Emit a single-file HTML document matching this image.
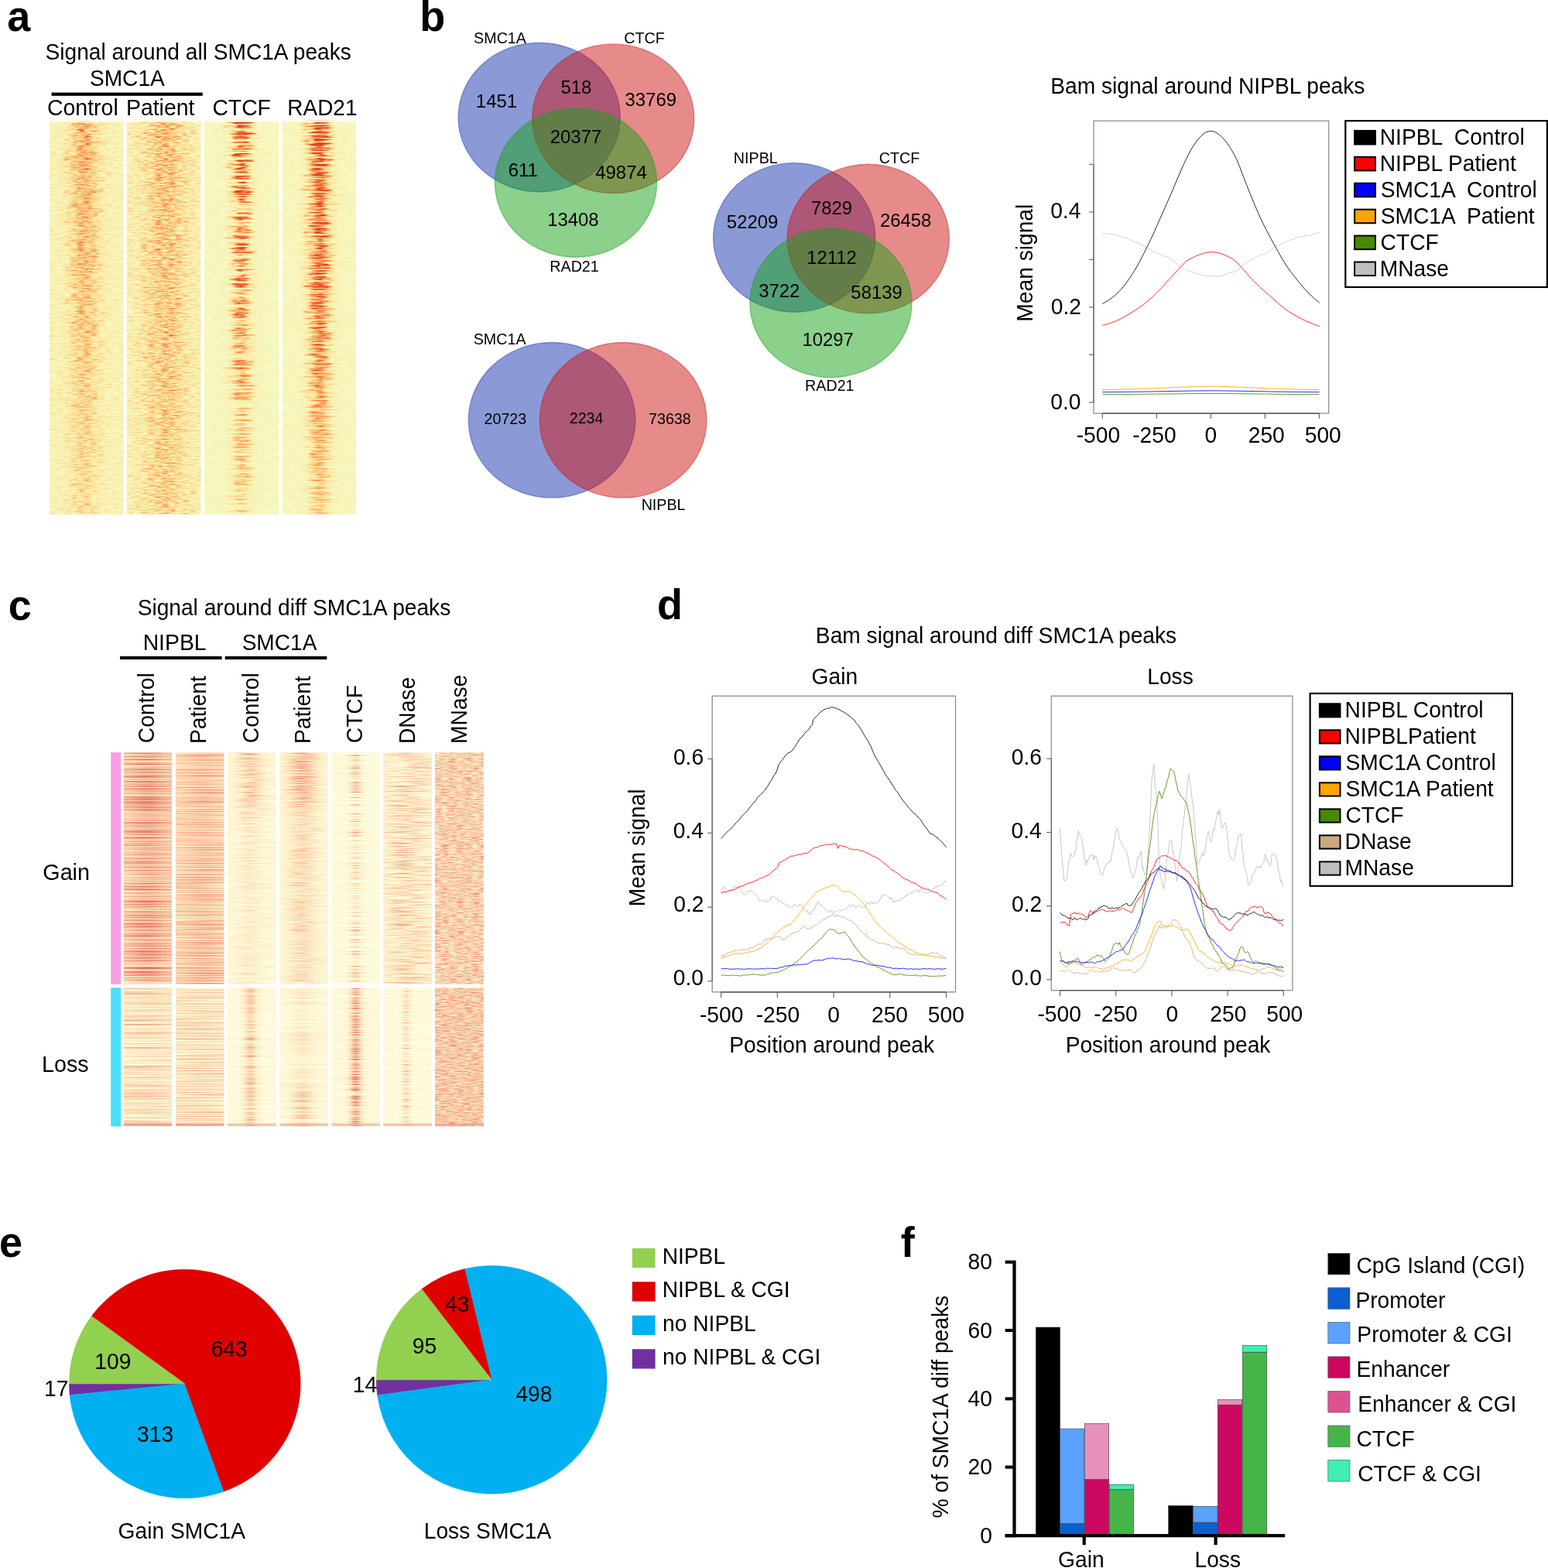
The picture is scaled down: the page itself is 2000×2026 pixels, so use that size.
<!DOCTYPE html>
<html lang="en"><head><meta charset="utf-8"><title>Figure</title>
<style>
html,body{margin:0;padding:0;background:#fff;}
body{width:2000px;height:2026px;overflow:hidden;}
svg{display:block;font-family:'Liberation Sans', Arial, Helvetica, sans-serif;}
</style></head><body>
<svg xmlns="http://www.w3.org/2000/svg" width="2000" height="2026" viewBox="0 0 2000 2026">
<linearGradient id="g1" gradientUnits="userSpaceOnUse" x1="63.9" y1="0" x2="159.6" y2="0"><stop offset="0" stop-color="#010101"/><stop offset="0.06" stop-color="#040404"/><stop offset="0.12" stop-color="#0c0c0c"/><stop offset="0.19" stop-color="#212121"/><stop offset="0.25" stop-color="#4a4a4a"/><stop offset="0.31" stop-color="#878787"/><stop offset="0.38" stop-color="#cbcbcb"/><stop offset="0.44" stop-color="#f8f8f8"/><stop offset="0.5" stop-color="#f9f9f9"/><stop offset="0.56" stop-color="#cdcdcd"/><stop offset="0.62" stop-color="#8a8a8a"/><stop offset="0.69" stop-color="#4c4c4c"/><stop offset="0.75" stop-color="#232323"/><stop offset="0.81" stop-color="#0d0d0d"/><stop offset="0.88" stop-color="#040404"/><stop offset="0.94" stop-color="#010101"/><stop offset="1" stop-color="#000000"/></linearGradient>
<linearGradient id="v2" gradientUnits="userSpaceOnUse" x1="0" y1="154.6" x2="0" y2="664.6"><stop offset="0" stop-color="#000" stop-opacity="0"/><stop offset="0.5" stop-color="#000" stop-opacity="0.25"/><stop offset="1" stop-color="#000" stop-opacity="0.55"/></linearGradient>
<filter id="f3" filterUnits="userSpaceOnUse" x="63.9" y="154.6" width="95.7" height="510" color-interpolation-filters="sRGB"><feTurbulence type="fractalNoise" baseFrequency="0.11 0.55" numOctaves="3" seed="3" result="t"/><feColorMatrix in="t" type="matrix" values="0.448 0 0 0 0.179 0.448 0 0 0 0.179 0.448 0 0 0 0.179 0 0 0 0 1" result="na"/><feTurbulence type="fractalNoise" baseFrequency="0.03 0.1" numOctaves="2" seed="31"/><feColorMatrix type="matrix" values="1 0 0 0 0 0 0 0 0 0.5 0 0 0 0 0.5 0 0 0 0 1" result="d"/><feDisplacementMap in="SourceGraphic" in2="d" scale="26" xChannelSelector="R" yChannelSelector="G" result="s"/><feComposite in="s" in2="na" operator="arithmetic" k1="1" k2="0" k3="0" k4="0" result="v"/><feColorMatrix in="t" type="matrix" values="0.567 0 0 0 -0.194 0.567 0 0 0 -0.194 0.567 0 0 0 -0.194 0 0 0 0 1" result="nc"/><feComposite in="v" in2="nc" operator="arithmetic" k1="0" k2="1" k3="1" k4="0" result="v"/><feComponentTransfer in="v"><feFuncR type="table" tableValues="0.965 0.972 0.979 0.987 0.987 0.986 0.985 0.981 0.976 0.972 0.962 0.946 0.93 0.913 0.89 0.866 0.843"/><feFuncG type="table" tableValues="0.976 0.959 0.942 0.925 0.887 0.844 0.801 0.748 0.686 0.625 0.559 0.485 0.412 0.346 0.309 0.272 0.235"/><feFuncB type="table" tableValues="0.761 0.725 0.69 0.654 0.608 0.559 0.51 0.461 0.412 0.363 0.315 0.27 0.225 0.185 0.169 0.153 0.137"/></feComponentTransfer></filter>
<g filter="url(#f3)"><rect x="33.9" y="154.6" width="155.7" height="510" fill="#000"/><rect x="63.9" y="154.6" width="95.7" height="510" fill="url(#g1)"/><rect x="33.9" y="154.6" width="155.7" height="510" fill="url(#v2)"/></g>
<rect x="63.9" y="154.6" width="95.7" height="3.2" fill="#fffef4" opacity="0.85"/>
<linearGradient id="g4" gradientUnits="userSpaceOnUse" x1="163.8" y1="0" x2="259.5" y2="0"><stop offset="0" stop-color="#060606"/><stop offset="0.06" stop-color="#0e0e0e"/><stop offset="0.12" stop-color="#1d1d1d"/><stop offset="0.19" stop-color="#373737"/><stop offset="0.25" stop-color="#5d5d5d"/><stop offset="0.31" stop-color="#8c8c8c"/><stop offset="0.38" stop-color="#bfbfbf"/><stop offset="0.44" stop-color="#e8e8e8"/><stop offset="0.5" stop-color="#fefefe"/><stop offset="0.56" stop-color="#f9f9f9"/><stop offset="0.62" stop-color="#dbdbdb"/><stop offset="0.69" stop-color="#adadad"/><stop offset="0.75" stop-color="#7b7b7b"/><stop offset="0.81" stop-color="#4e4e4e"/><stop offset="0.88" stop-color="#2d2d2d"/><stop offset="0.94" stop-color="#171717"/><stop offset="1" stop-color="#0a0a0a"/></linearGradient>
<linearGradient id="v5" gradientUnits="userSpaceOnUse" x1="0" y1="154.6" x2="0" y2="664.6"><stop offset="0" stop-color="#000" stop-opacity="0"/><stop offset="0.5" stop-color="#000" stop-opacity="0.15"/><stop offset="1" stop-color="#000" stop-opacity="0.3"/></linearGradient>
<filter id="f6" filterUnits="userSpaceOnUse" x="163.8" y="154.6" width="95.7" height="510" color-interpolation-filters="sRGB"><feTurbulence type="fractalNoise" baseFrequency="0.11 0.55" numOctaves="3" seed="8" result="t"/><feColorMatrix in="t" type="matrix" values="0.484 0 0 0 0.048 0.484 0 0 0 0.048 0.484 0 0 0 0.048 0 0 0 0 1" result="na"/><feTurbulence type="fractalNoise" baseFrequency="0.03 0.1" numOctaves="2" seed="32"/><feColorMatrix type="matrix" values="1 0 0 0 0 0 0 0 0 0.5 0 0 0 0 0.5 0 0 0 0 1" result="d"/><feDisplacementMap in="SourceGraphic" in2="d" scale="28" xChannelSelector="R" yChannelSelector="G" result="s"/><feComposite in="s" in2="na" operator="arithmetic" k1="1" k2="0" k3="0" k4="0" result="v"/><feColorMatrix in="t" type="matrix" values="0.677 0 0 0 -0.21 0.677 0 0 0 -0.21 0.677 0 0 0 -0.21 0 0 0 0 1" result="nc"/><feComposite in="v" in2="nc" operator="arithmetic" k1="0" k2="1" k3="1" k4="0" result="v"/><feComponentTransfer in="v"><feFuncR type="table" tableValues="0.965 0.972 0.979 0.987 0.987 0.986 0.985 0.981 0.976 0.972 0.962 0.946 0.93 0.913 0.89 0.866 0.843"/><feFuncG type="table" tableValues="0.976 0.959 0.942 0.925 0.887 0.844 0.801 0.748 0.686 0.625 0.559 0.485 0.412 0.346 0.309 0.272 0.235"/><feFuncB type="table" tableValues="0.761 0.725 0.69 0.654 0.608 0.559 0.51 0.461 0.412 0.363 0.315 0.27 0.225 0.185 0.169 0.153 0.137"/></feComponentTransfer></filter>
<g filter="url(#f6)"><rect x="133.8" y="154.6" width="155.7" height="510" fill="#000"/><rect x="163.8" y="154.6" width="95.7" height="510" fill="url(#g4)"/><rect x="133.8" y="154.6" width="155.7" height="510" fill="url(#v5)"/></g>
<rect x="163.8" y="154.6" width="95.7" height="3.2" fill="#fffef4" opacity="0.85"/>
<linearGradient id="g7" gradientUnits="userSpaceOnUse" x1="263.9" y1="0" x2="360.2" y2="0"><stop offset="0" stop-color="#000000"/><stop offset="0.06" stop-color="#000000"/><stop offset="0.12" stop-color="#000000"/><stop offset="0.19" stop-color="#000000"/><stop offset="0.25" stop-color="#030303"/><stop offset="0.31" stop-color="#161616"/><stop offset="0.38" stop-color="#565656"/><stop offset="0.44" stop-color="#c3c3c3"/><stop offset="0.5" stop-color="#ffffff"/><stop offset="0.56" stop-color="#c3c3c3"/><stop offset="0.62" stop-color="#565656"/><stop offset="0.69" stop-color="#161616"/><stop offset="0.75" stop-color="#030303"/><stop offset="0.81" stop-color="#000000"/><stop offset="0.88" stop-color="#000000"/><stop offset="0.94" stop-color="#000000"/><stop offset="1" stop-color="#000000"/></linearGradient>
<linearGradient id="v8" gradientUnits="userSpaceOnUse" x1="0" y1="154.6" x2="0" y2="664.6"><stop offset="0" stop-color="#000" stop-opacity="0"/><stop offset="0.4" stop-color="#000" stop-opacity="0.15"/><stop offset="0.7" stop-color="#000" stop-opacity="0.38"/><stop offset="1" stop-color="#000" stop-opacity="0.6"/></linearGradient>
<filter id="f9" filterUnits="userSpaceOnUse" x="263.9" y="154.6" width="96.3" height="510" color-interpolation-filters="sRGB"><feTurbulence type="fractalNoise" baseFrequency="0.012 0.4" numOctaves="2" seed="5" result="t"/><feColorMatrix in="t" type="matrix" values="3.6 0 0 0 -1.15 3.6 0 0 0 -1.15 3.6 0 0 0 -1.15 0 0 0 0 1" result="na"/><feTurbulence type="fractalNoise" baseFrequency="0.06 0.35" numOctaves="2" seed="41"/><feColorMatrix type="matrix" values="1 0 0 0 0 0 0 0 0 0.5 0 0 0 0 0.5 0 0 0 0 1" result="d"/><feDisplacementMap in="SourceGraphic" in2="d" scale="30" xChannelSelector="R" yChannelSelector="G" result="s"/><feComposite in="s" in2="na" operator="arithmetic" k1="1" k2="0" k3="0" k4="0" result="v"/><feTurbulence type="fractalNoise" baseFrequency="0.12 0.45" numOctaves="2" seed="51"/><feColorMatrix type="matrix" values="0.32 0 0 0 -0.135 0.32 0 0 0 -0.135 0.32 0 0 0 -0.135 0 0 0 0 1" result="n3"/><feComposite in="v" in2="n3" operator="arithmetic" k1="0" k2="1" k3="1" k4="0" result="v"/><feComponentTransfer in="v"><feFuncR type="table" tableValues="0.965 0.972 0.979 0.987 0.987 0.986 0.985 0.981 0.976 0.972 0.962 0.946 0.93 0.913 0.89 0.866 0.843"/><feFuncG type="table" tableValues="0.976 0.959 0.942 0.925 0.887 0.844 0.801 0.748 0.686 0.625 0.559 0.485 0.412 0.346 0.309 0.272 0.235"/><feFuncB type="table" tableValues="0.761 0.725 0.69 0.654 0.608 0.559 0.51 0.461 0.412 0.363 0.315 0.27 0.225 0.185 0.169 0.153 0.137"/></feComponentTransfer></filter>
<g filter="url(#f9)"><rect x="233.9" y="154.6" width="156.3" height="510" fill="#000"/><rect x="263.9" y="154.6" width="96.3" height="510" fill="url(#g7)"/><rect x="233.9" y="154.6" width="156.3" height="510" fill="url(#v8)"/></g>
<rect x="263.9" y="154.6" width="96.3" height="3.2" fill="#fffef4" opacity="0.85"/>
<linearGradient id="g10" gradientUnits="userSpaceOnUse" x1="364.8" y1="0" x2="460.1" y2="0"><stop offset="0" stop-color="#000000"/><stop offset="0.06" stop-color="#000000"/><stop offset="0.12" stop-color="#000000"/><stop offset="0.19" stop-color="#020202"/><stop offset="0.25" stop-color="#0b0b0b"/><stop offset="0.31" stop-color="#2c2c2c"/><stop offset="0.38" stop-color="#757575"/><stop offset="0.44" stop-color="#d2d2d2"/><stop offset="0.5" stop-color="#ffffff"/><stop offset="0.56" stop-color="#d2d2d2"/><stop offset="0.62" stop-color="#757575"/><stop offset="0.69" stop-color="#2c2c2c"/><stop offset="0.75" stop-color="#0b0b0b"/><stop offset="0.81" stop-color="#020202"/><stop offset="0.88" stop-color="#000000"/><stop offset="0.94" stop-color="#000000"/><stop offset="1" stop-color="#000000"/></linearGradient>
<linearGradient id="v11" gradientUnits="userSpaceOnUse" x1="0" y1="154.6" x2="0" y2="664.6"><stop offset="0" stop-color="#000" stop-opacity="0"/><stop offset="0.4" stop-color="#000" stop-opacity="0.1"/><stop offset="0.7" stop-color="#000" stop-opacity="0.33"/><stop offset="1" stop-color="#000" stop-opacity="0.58"/></linearGradient>
<filter id="f12" filterUnits="userSpaceOnUse" x="364.8" y="154.6" width="95.3" height="510" color-interpolation-filters="sRGB"><feTurbulence type="fractalNoise" baseFrequency="0.012 0.4" numOctaves="2" seed="9" result="t"/><feColorMatrix in="t" type="matrix" values="3.6 0 0 0 -1 3.6 0 0 0 -1 3.6 0 0 0 -1 0 0 0 0 1" result="na"/><feTurbulence type="fractalNoise" baseFrequency="0.06 0.35" numOctaves="2" seed="42"/><feColorMatrix type="matrix" values="1 0 0 0 0 0 0 0 0 0.5 0 0 0 0 0.5 0 0 0 0 1" result="d"/><feDisplacementMap in="SourceGraphic" in2="d" scale="30" xChannelSelector="R" yChannelSelector="G" result="s"/><feComposite in="s" in2="na" operator="arithmetic" k1="1" k2="0" k3="0" k4="0" result="v"/><feTurbulence type="fractalNoise" baseFrequency="0.12 0.45" numOctaves="2" seed="52"/><feColorMatrix type="matrix" values="0.32 0 0 0 -0.13 0.32 0 0 0 -0.13 0.32 0 0 0 -0.13 0 0 0 0 1" result="n3"/><feComposite in="v" in2="n3" operator="arithmetic" k1="0" k2="1" k3="1" k4="0" result="v"/><feComponentTransfer in="v"><feFuncR type="table" tableValues="0.965 0.972 0.979 0.987 0.987 0.986 0.985 0.981 0.976 0.972 0.962 0.946 0.93 0.913 0.89 0.866 0.843"/><feFuncG type="table" tableValues="0.976 0.959 0.942 0.925 0.887 0.844 0.801 0.748 0.686 0.625 0.559 0.485 0.412 0.346 0.309 0.272 0.235"/><feFuncB type="table" tableValues="0.761 0.725 0.69 0.654 0.608 0.559 0.51 0.461 0.412 0.363 0.315 0.27 0.225 0.185 0.169 0.153 0.137"/></feComponentTransfer></filter>
<g filter="url(#f12)"><rect x="334.8" y="154.6" width="155.3" height="510" fill="#000"/><rect x="364.8" y="154.6" width="95.3" height="510" fill="url(#g10)"/><rect x="334.8" y="154.6" width="155.3" height="510" fill="url(#v11)"/></g>
<rect x="364.8" y="154.6" width="95.3" height="3.2" fill="#fffef4" opacity="0.85"/>
<rect x="61.9" y="152.6" width="2" height="514" fill="#fff"/>
<rect x="159.6" y="152.6" width="4.2" height="514" fill="#fff"/>
<rect x="259.5" y="152.6" width="4.4" height="514" fill="#fff"/>
<rect x="360.2" y="152.6" width="4.6" height="514" fill="#fff"/>
<rect x="460.1" y="152.6" width="2" height="514" fill="#fff"/>
<rect x="61.9" y="152.6" width="400.2" height="2" fill="#fff"/>
<rect x="61.9" y="664.6" width="400.2" height="2" fill="#fff"/>
<text transform="translate(9.23 40.2) scale(1 1.04)" font-size="54" font-weight="bold">a</text>
<text transform="translate(542.36 40.2) scale(1 1.04)" font-size="54" font-weight="bold">b</text>
<text transform="translate(10.74 800.8) scale(1 1.04)" font-size="54" font-weight="bold">c</text>
<text transform="translate(849 800.3) scale(1 1.04)" font-size="54" font-weight="bold">d</text>
<text transform="translate(-1.12 1624) scale(1 1.04)" font-size="54" font-weight="bold">e</text>
<text transform="translate(1163.85 1623.8) scale(1 1.04)" font-size="54" font-weight="bold">f</text>
<text transform="translate(58.53 76.8) scale(1 1.03)" font-size="28.12">Signal around all SMC1A peaks</text>
<text transform="translate(115.93 111.1) scale(1 1.03)" font-size="28.12">SMC1A</text>
<rect x="66.6" y="119.6" width="195.2" height="4.2" fill="#000"/>
<text transform="translate(60.98 148.8) scale(1 1.03)" font-size="28.47">Control</text>
<text transform="translate(162.93 148.8) scale(1 1.03)" font-size="28.43">Patient</text>
<text transform="translate(274.38 148.8) scale(1 1.03)" font-size="28.35">CTCF</text>
<text transform="translate(371.37 148.8) scale(1 1.03)" font-size="27.94">RAD21</text>
<ellipse cx="696.7" cy="151.5" rx="104.6" ry="96.3" fill="rgb(23,53,173)" fill-opacity="0.5" stroke="rgb(23,53,173)" stroke-opacity="0.45" stroke-width="1.4"/>
<ellipse cx="792.2" cy="153.2" rx="104.6" ry="96.3" fill="rgb(207,21,21)" fill-opacity="0.5" stroke="rgb(207,21,21)" stroke-opacity="0.45" stroke-width="1.4"/>
<ellipse cx="744" cy="236" rx="104.6" ry="96.3" fill="rgb(23,161,23)" fill-opacity="0.5" stroke="rgb(23,161,23)" stroke-opacity="0.45" stroke-width="1.4"/>
<text transform="translate(612.12 55.6) scale(1 1.03)" font-size="19.7">SMC1A</text>
<text transform="translate(806.25 56) scale(1 1.03)" font-size="19.7">CTCF</text>
<text transform="translate(710.29 350.7) scale(1 1.03)" font-size="19.7">RAD21</text>
<text transform="translate(724.4 121.49) scale(1 1.03)" font-size="23.9">518</text>
<text transform="translate(614.85 138.97) scale(1 1.03)" font-size="23.9">1451</text>
<text transform="translate(807.54 137.19) scale(1 1.03)" font-size="23.9">33769</text>
<text transform="translate(710.78 184.89) scale(1 1.03)" font-size="23.9">20377</text>
<text transform="translate(656.68 228.19) scale(1 1.03)" font-size="23.9">611</text>
<text transform="translate(769.3 230.59) scale(1 1.03)" font-size="23.9">49874</text>
<text transform="translate(707.16 291.69) scale(1 1.03)" font-size="23.9">13408</text>
<ellipse cx="1026.2" cy="306.9" rx="104.6" ry="96.3" fill="rgb(23,53,173)" fill-opacity="0.5" stroke="rgb(23,53,173)" stroke-opacity="0.45" stroke-width="1.4"/>
<ellipse cx="1121.7" cy="308.6" rx="104.6" ry="96.3" fill="rgb(207,21,21)" fill-opacity="0.5" stroke="rgb(207,21,21)" stroke-opacity="0.45" stroke-width="1.4"/>
<ellipse cx="1073.5" cy="391.4" rx="104.6" ry="96.3" fill="rgb(23,161,23)" fill-opacity="0.5" stroke="rgb(23,161,23)" stroke-opacity="0.45" stroke-width="1.4"/>
<text transform="translate(947.84 210.8) scale(1 1.03)" font-size="19.7">NIPBL</text>
<text transform="translate(1135.75 211.2) scale(1 1.03)" font-size="19.7">CTCF</text>
<text transform="translate(1040.09 504.5) scale(1 1.03)" font-size="19.7">RAD21</text>
<text transform="translate(1047.95 276.99) scale(1 1.03)" font-size="23.9">7829</text>
<text transform="translate(938.84 294.59) scale(1 1.03)" font-size="23.9">52209</text>
<text transform="translate(1136.96 292.99) scale(1 1.03)" font-size="23.9">26458</text>
<text transform="translate(1042.18 340.92) scale(1 1.03)" font-size="23.9">12112</text>
<text transform="translate(980.13 384.09) scale(1 1.03)" font-size="23.9">3722</text>
<text transform="translate(1099.34 386.29) scale(1 1.03)" font-size="23.9">58139</text>
<text transform="translate(1036.48 447.49) scale(1 1.03)" font-size="23.9">10297</text>
<ellipse cx="713.1" cy="542.8" rx="107.8" ry="100.3" fill="rgb(23,53,173)" fill-opacity="0.5" stroke="rgb(23,53,173)" stroke-opacity="0.45" stroke-width="1.4"/>
<ellipse cx="805.1" cy="542.8" rx="107.8" ry="100.3" fill="rgb(207,21,21)" fill-opacity="0.5" stroke="rgb(207,21,21)" stroke-opacity="0.45" stroke-width="1.4"/>
<text transform="translate(611.72 444.6) scale(1 1.03)" font-size="19.7">SMC1A</text>
<text transform="translate(828.64 659) scale(1 1.03)" font-size="19.7">NIPBL</text>
<text transform="translate(625.52 547.8) scale(1 1.03)" font-size="19.7">20723</text>
<text transform="translate(735.69 547.2) scale(1 1.03)" font-size="19.7">2234</text>
<text transform="translate(838.02 548.2) scale(1 1.03)" font-size="19.7">73638</text>
<text transform="translate(1357.16 121.2) scale(1 1.03)" font-size="28.2">Bam signal around NIPBL peaks</text>
<rect x="1413" y="156.2" width="303.7" height="377.9" fill="none" stroke="#909090" stroke-width="1.3"/>
<line x1="1413" y1="212.4" x2="1413" y2="519.9" stroke="#666666" stroke-width="1.2"/>
<line x1="1424.3" y1="534.1" x2="1704.46" y2="534.1" stroke="#484848" stroke-width="1.3"/>
<line x1="1424.3" y1="534.1" x2="1424.3" y2="540.9" stroke="#606060" stroke-width="1.1"/>
<line x1="1494.34" y1="534.1" x2="1494.34" y2="540.9" stroke="#606060" stroke-width="1.1"/>
<line x1="1564.38" y1="534.1" x2="1564.38" y2="540.9" stroke="#606060" stroke-width="1.1"/>
<line x1="1634.42" y1="534.1" x2="1634.42" y2="540.9" stroke="#606060" stroke-width="1.1"/>
<line x1="1704.46" y1="534.1" x2="1704.46" y2="540.9" stroke="#606060" stroke-width="1.1"/>
<line x1="1407" y1="519.9" x2="1413" y2="519.9" stroke="#606060" stroke-width="1.1"/>
<line x1="1407" y1="458.4" x2="1413" y2="458.4" stroke="#606060" stroke-width="1.1"/>
<line x1="1407" y1="396.9" x2="1413" y2="396.9" stroke="#606060" stroke-width="1.1"/>
<line x1="1407" y1="335.4" x2="1413" y2="335.4" stroke="#606060" stroke-width="1.1"/>
<line x1="1407" y1="273.9" x2="1413" y2="273.9" stroke="#606060" stroke-width="1.1"/>
<line x1="1407" y1="212.4" x2="1413" y2="212.4" stroke="#606060" stroke-width="1.1"/>
<text transform="translate(1357.29 529.1) scale(1 1.03)" font-size="28.2">0.0</text>
<text transform="translate(1357.71 405.5) scale(1 1.03)" font-size="28.2">0.2</text>
<text transform="translate(1357.15 281.9) scale(1 1.03)" font-size="28.2">0.4</text>
<text transform="translate(1390.66 572.3) scale(1 1.03)" font-size="28.2">-500</text>
<text transform="translate(1463.16 572.3) scale(1 1.03)" font-size="28.2">-250</text>
<text transform="translate(1556.5 572.3) scale(1 1.03)" font-size="28.2">0</text>
<text transform="translate(1612.71 572.3) scale(1 1.03)" font-size="28.2">250</text>
<text transform="translate(1685.75 572.3) scale(1 1.03)" font-size="28.2">500</text>
<text transform="translate(1333.8 415.66) rotate(-90) scale(1 1.03)" font-size="28.2">Mean signal</text>
<path d="M1424.2,302.1 1425.3,302.4 1426.7,302.0 1428.3,301.7 1430.3,301.9 1431.3,302.4 1432.4,302.4 1433.5,302.1 1434.6,302.1 1435.9,302.4 1437.1,302.9 1438.5,303.1 1439.9,303.3 1441.3,303.6 1442.8,304.0 1443.8,304.1 1444.9,304.5 1445.9,304.8 1446.9,305.5 1447.9,305.6 1448.9,306.1 1450.4,306.1 1451.9,306.8 1453.4,307.3 1454.8,307.6 1456.2,308.1 1457.7,308.8 1459.1,309.2 1460.6,310.0 1462.0,310.9 1463.5,311.7 1464.9,312.4 1466.3,312.4 1467.8,313.1 1469.2,313.5 1470.7,314.5 1472.1,315.1 1473.5,315.9 1475.0,316.8 1476.4,317.4 1477.9,318.3 1479.3,318.9 1480.8,320.3 1482.2,320.9 1483.6,321.6 1485.1,321.9 1486.5,322.5 1488.0,323.2 1489.5,324.4 1490.5,325.1 1491.5,325.6 1492.5,325.8 1493.6,326.8 1494.6,326.8 1495.6,327.1 1497.1,327.9 1498.6,328.3 1500.0,329.1 1501.3,329.9 1502.6,330.4 1503.8,331.0 1504.9,331.4 1506.0,331.7 1507.8,331.7 1509.5,332.4 1511.0,333.3 1512.6,333.9 1514.2,335.0 1515.9,336.4 1517.5,338.2 1519.2,339.3 1520.9,340.8 1522.7,342.4 1524.6,343.9 1525.6,344.2 1526.7,345.4 1527.8,345.7 1529.0,346.6 1530.1,347.0 1531.3,347.7 1532.5,348.6 1533.7,349.2 1534.9,349.5 1536.1,349.7 1537.3,350.1 1538.4,350.3 1539.6,351.4 1540.8,351.4 1541.9,351.3 1543.1,352.4 1544.3,353.1 1545.4,353.3 1546.6,353.8 1547.8,353.9 1548.9,354.1 1550.1,354.6 1551.2,354.9 1552.3,355.0 1553.4,355.7 1554.4,356.0 1555.5,356.0 1556.6,355.8 1557.6,356.0 1558.6,356.1 1559.7,356.3 1560.7,356.6 1561.7,356.5 1562.7,356.7 1563.7,357.0 1564.7,357.0 1565.7,357.6 1566.8,356.9 1567.8,356.9 1568.8,356.6 1570.8,356.7 1572.7,357.4 1574.6,356.6 1576.5,356.3 1578.3,356.2 1580.1,355.7 1581.8,355.4 1583.5,354.3 1585.2,354.0 1586.9,353.2 1588.6,352.4 1590.4,352.3 1592.1,352.0 1593.8,351.2 1595.5,350.4 1597.3,349.7 1598.9,348.7 1600.5,347.6 1602.1,346.1 1603.8,344.3 1605.6,343.5 1606.6,342.8 1607.7,341.8 1608.8,340.7 1610.0,339.9 1611.3,339.1 1612.6,337.8 1614.0,337.5 1615.3,336.7 1616.7,335.7 1618.1,334.9 1619.4,334.1 1620.8,333.4 1622.0,332.6 1623.2,332.2 1624.3,331.8 1625.5,331.0 1626.5,330.4 1627.6,329.7 1628.6,329.5 1629.6,329.1 1631.6,328.6 1633.5,328.2 1635.3,327.5 1637.1,326.2 1638.8,325.4 1640.4,324.1 1642.1,322.9 1643.8,321.5 1645.7,319.9 1646.8,319.6 1647.8,318.6 1648.9,318.5 1650.0,318.0 1651.1,317.8 1652.2,317.1 1653.4,316.6 1654.6,316.1 1655.8,315.3 1657.0,314.9 1658.3,314.1 1659.6,313.4 1660.9,312.6 1662.3,312.2 1663.7,311.8 1665.1,311.0 1666.5,310.2 1668.0,309.8 1669.5,309.4 1671.0,308.9 1672.5,308.2 1673.9,307.7 1675.4,307.3 1676.9,306.3 1678.4,306.1 1679.8,306.3 1680.9,305.7 1681.9,305.6 1682.9,305.9 1683.9,305.7 1684.9,305.6 1685.9,305.1 1687.4,304.4 1688.9,304.9 1690.3,304.4 1691.7,304.0 1692.9,304.0 1694.2,303.7 1695.3,303.3 1696.5,302.6 1697.6,302.3 1698.6,302.1 1700.6,301.6 1702.4,301.1 1703.8,300.7 1704.9,300.6" fill="none" stroke="#c8c8c8" stroke-width="0.85" stroke-linejoin="round"/>
<path d="M1424.5,509.6 1431.5,509.6 1438.5,509.6 1445.5,509.6 1452.5,509.5 1459.5,509.5 1466.5,509.4 1473.5,509.4 1480.5,509.3 1487.5,509.2 1494.5,509.1 1501.6,509.0 1508.6,509.0 1515.6,508.9 1522.6,508.8 1529.6,508.7 1536.6,508.6 1543.6,508.5 1550.6,508.5 1557.6,508.5 1564.6,508.5 1571.6,508.5 1578.6,508.5 1585.6,508.5 1592.6,508.6 1599.6,508.7 1606.6,508.8 1613.6,508.9 1620.6,509.0 1627.6,509.0 1634.7,509.1 1641.7,509.2 1648.7,509.3 1655.7,509.4 1662.7,509.4 1669.7,509.5 1676.7,509.5 1683.7,509.6 1690.7,509.6 1697.7,509.6 1704.7,509.6" fill="none" stroke="#458b00" stroke-width="0.85" stroke-linejoin="round"/>
<path d="M1424.5,506.6 1431.5,506.6 1438.5,506.5 1445.5,506.5 1452.5,506.4 1459.5,506.4 1466.5,506.3 1473.5,506.2 1480.5,506.1 1487.5,506.0 1494.5,505.8 1501.6,505.7 1508.6,505.6 1515.6,505.4 1522.6,505.3 1529.6,505.2 1536.6,505.1 1543.6,505.0 1550.6,504.9 1557.6,504.8 1564.6,504.8 1571.6,504.8 1578.6,504.9 1585.6,505.0 1592.6,505.1 1599.6,505.2 1606.6,505.3 1613.6,505.4 1620.6,505.6 1627.6,505.7 1634.7,505.8 1641.7,506.0 1648.7,506.1 1655.7,506.2 1662.7,506.3 1669.7,506.4 1676.7,506.4 1683.7,506.5 1690.7,506.5 1697.7,506.6 1704.7,506.6" fill="none" stroke="#0000ff" stroke-width="0.85" stroke-linejoin="round"/>
<path d="M1424.5,503.4 1431.5,503.4 1438.5,503.3 1445.5,503.2 1452.5,503.0 1459.5,502.9 1466.5,502.7 1473.5,502.5 1480.5,502.2 1487.5,502.0 1494.5,501.7 1501.6,501.3 1508.6,501.0 1515.6,500.7 1522.6,500.4 1529.6,500.1 1536.6,499.8 1543.6,499.6 1550.6,499.4 1557.6,499.3 1564.6,499.3 1571.6,499.3 1578.6,499.4 1585.6,499.6 1592.6,499.8 1599.6,500.1 1606.6,500.4 1613.6,500.7 1620.6,501.0 1627.6,501.3 1634.7,501.7 1641.7,502.0 1648.7,502.2 1655.7,502.5 1662.7,502.7 1669.7,502.9 1676.7,503.0 1683.7,503.2 1690.7,503.3 1697.7,503.4 1704.7,503.4" fill="none" stroke="#ffa500" stroke-width="0.85" stroke-linejoin="round"/>
<path d="M1424.2,420.5 1425.3,420.2 1426.8,419.8 1428.6,419.3 1430.5,418.7 1432.6,418.1 1434.6,417.4 1436.6,416.6 1438.7,415.9 1440.9,415.1 1443.2,414.1 1445.7,413.0 1448.5,411.6 1451.6,409.9 1455.1,407.9 1458.8,405.7 1462.6,403.4 1466.1,401.2 1469.2,399.2 1471.9,397.4 1474.3,395.7 1476.6,394.0 1478.7,392.4 1480.8,390.7 1483.1,388.8 1485.4,386.8 1487.8,384.6 1490.2,382.4 1492.5,380.1 1494.8,377.9 1496.9,375.8 1498.8,373.9 1500.6,371.9 1502.3,370.1 1504.0,368.3 1505.6,366.4 1507.3,364.6 1509.0,362.7 1510.7,360.8 1512.5,359.0 1514.2,357.1 1515.9,355.2 1517.7,353.3 1519.4,351.4 1521.3,349.4 1523.1,347.4 1524.8,345.4 1526.5,343.7 1528.1,342.1 1529.4,340.8 1530.5,339.6 1531.5,338.7 1532.5,337.8 1533.7,336.9 1535.0,336.0 1536.5,335.1 1538.2,334.2 1540.0,333.3 1541.8,332.4 1543.6,331.6 1545.4,330.8 1547.1,330.1 1548.9,329.4 1550.6,328.7 1552.4,328.1 1554.1,327.5 1555.7,327.0 1557.3,326.6 1558.9,326.3 1560.4,326.0 1561.8,325.8 1563.3,325.7 1564.7,325.6 1566.1,325.6 1567.5,325.7 1568.8,325.8 1570.1,325.9 1571.5,326.2 1573.0,326.5 1574.6,326.9 1576.3,327.3 1578.0,327.9 1579.8,328.5 1581.6,329.2 1583.4,330.0 1585.4,330.9 1587.5,332.0 1589.6,333.1 1591.7,334.3 1593.7,335.6 1595.5,336.9 1597.1,338.2 1598.6,339.5 1599.9,340.8 1601.2,342.2 1602.6,343.8 1604.2,345.5 1606.0,347.6 1608.0,349.8 1610.0,352.2 1612.1,354.7 1614.2,357.1 1616.3,359.4 1618.3,361.5 1620.3,363.6 1622.3,365.6 1624.3,367.5 1626.3,369.5 1628.4,371.5 1630.6,373.5 1632.7,375.4 1634.9,377.3 1637.2,379.3 1639.6,381.3 1642.3,383.6 1645.1,386.2 1648.2,389.0 1651.5,391.9 1654.8,394.8 1658.1,397.6 1661.3,400.1 1664.5,402.3 1667.8,404.4 1671.1,406.3 1674.4,408.1 1677.5,409.8 1680.3,411.3 1683.0,412.7 1685.4,413.9 1687.8,415.0 1690.0,415.9 1692.1,416.8 1694.2,417.7 1696.3,418.6 1698.4,419.4 1700.4,420.1 1702.2,420.7 1703.8,421.3 1704.9,421.7" fill="none" stroke="#ff0000" stroke-width="0.85" stroke-linejoin="round"/>
<path d="M1424.2,392.6 1425.4,391.9 1426.9,391.0 1428.8,390.0 1430.8,388.7 1432.8,387.5 1434.6,386.2 1436.3,385.0 1438.0,383.7 1439.7,382.4 1441.4,381.0 1443.2,379.4 1445.0,377.6 1446.9,375.5 1448.9,373.3 1450.9,370.9 1453.0,368.3 1455.1,365.6 1457.1,362.8 1459.1,359.9 1461.2,356.9 1463.3,353.7 1465.3,350.4 1467.3,347.1 1469.2,343.8 1471.0,340.6 1472.8,337.3 1474.5,334.0 1476.2,330.7 1477.9,327.3 1479.6,323.9 1481.3,320.4 1483.1,316.9 1484.8,313.3 1486.5,309.7 1488.3,306.0 1490.0,302.3 1491.7,298.5 1493.4,294.6 1495.2,290.7 1496.9,286.8 1498.6,282.8 1500.4,278.9 1502.1,275.0 1503.8,271.2 1505.6,267.3 1507.3,263.4 1509.0,259.5 1510.7,255.6 1512.5,251.5 1514.3,247.4 1516.0,243.2 1517.8,239.1 1519.5,235.1 1521.1,231.3 1522.7,227.7 1524.1,224.3 1525.6,220.9 1527.0,217.7 1528.4,214.5 1529.8,211.4 1531.2,208.3 1532.7,205.3 1534.1,202.3 1535.6,199.5 1537.0,196.7 1538.4,194.1 1539.9,191.7 1541.3,189.3 1542.8,187.1 1544.2,185.0 1545.6,183.0 1547.1,181.1 1548.5,179.4 1550.0,177.7 1551.4,176.2 1552.8,174.8 1554.3,173.6 1555.7,172.5 1557.2,171.6 1558.7,170.8 1560.3,170.2 1561.8,169.8 1563.3,169.5 1564.7,169.4 1566.2,169.5 1567.5,169.8 1568.9,170.3 1570.3,170.9 1571.6,171.6 1573.0,172.5 1574.5,173.5 1575.9,174.6 1577.4,175.8 1578.8,177.2 1580.3,178.7 1581.7,180.3 1583.1,182.0 1584.6,183.8 1586.0,185.8 1587.5,187.9 1588.9,190.1 1590.4,192.4 1591.8,194.8 1593.2,197.3 1594.7,200.0 1596.1,202.7 1597.6,205.7 1599.0,208.8 1600.4,212.2 1601.8,215.8 1603.2,219.5 1604.6,223.4 1606.1,227.3 1607.7,231.3 1609.3,235.5 1611.0,239.8 1612.7,244.2 1614.5,248.6 1616.3,253.0 1618.0,257.3 1619.8,261.5 1621.5,265.6 1623.2,269.7 1625.0,273.8 1626.7,277.7 1628.4,281.5 1630.2,285.2 1631.9,288.8 1633.6,292.2 1635.3,295.6 1637.1,299.0 1638.8,302.3 1640.5,305.5 1642.2,308.7 1643.9,311.8 1645.6,314.9 1647.4,318.1 1649.2,321.3 1651.1,324.7 1653.1,328.3 1655.1,331.9 1657.2,335.4 1659.3,338.9 1661.3,342.1 1663.3,345.1 1665.3,347.9 1667.4,350.7 1669.4,353.3 1671.4,355.9 1673.4,358.5 1675.5,361.1 1677.5,363.7 1679.6,366.3 1681.6,368.7 1683.6,371.0 1685.5,373.2 1687.4,375.2 1689.2,377.1 1690.9,378.9 1692.6,380.5 1694.3,382.1 1695.9,383.6 1697.6,385.2 1699.3,386.7 1701.1,388.2 1702.6,389.5 1703.9,390.6 1704.9,391.4" fill="none" stroke="#000000" stroke-width="0.85" stroke-linejoin="round"/>
<rect x="1738.3" y="156.1" width="260.6" height="214.9" fill="#fff" stroke="#000" stroke-width="2.2"/>
<rect x="1750.1" y="168.9" width="26.9" height="17.6" fill="#000000" stroke="#000" stroke-width="2"/>
<text transform="translate(1782.74 187.2) scale(1 1.03)" font-size="28.2" xml:space="preserve" style="white-space:pre">NIPBL  Control</text>
<rect x="1750.1" y="202.82" width="26.9" height="17.6" fill="#ff0000" stroke="#000" stroke-width="2"/>
<text transform="translate(1782.74 221.12) scale(1 1.03)" font-size="28.2">NIPBL Patient</text>
<rect x="1750.1" y="236.74" width="26.9" height="17.6" fill="#0000ff" stroke="#000" stroke-width="2"/>
<text transform="translate(1783.73 255.04) scale(1 1.03)" font-size="28.2" xml:space="preserve" style="white-space:pre">SMC1A  Control</text>
<rect x="1750.1" y="270.66" width="26.9" height="17.6" fill="#ffa500" stroke="#000" stroke-width="2"/>
<text transform="translate(1783.73 288.96) scale(1 1.03)" font-size="28.2" xml:space="preserve" style="white-space:pre">SMC1A  Patient</text>
<rect x="1750.1" y="304.58" width="26.9" height="17.6" fill="#458b00" stroke="#000" stroke-width="2"/>
<text transform="translate(1783.59 322.88) scale(1 1.03)" font-size="28.2">CTCF</text>
<rect x="1750.1" y="338.5" width="26.9" height="17.6" fill="#bebebe" stroke="#000" stroke-width="2"/>
<text transform="translate(1782.74 356.8) scale(1 1.03)" font-size="28.2">MNase</text>
<linearGradient id="g13" gradientUnits="userSpaceOnUse" x1="159.5" y1="0" x2="222.3" y2="0"><stop offset="0" stop-color="#b8b8b8"/><stop offset="0.06" stop-color="#bfbfbf"/><stop offset="0.12" stop-color="#c8c8c8"/><stop offset="0.19" stop-color="#d3d3d3"/><stop offset="0.25" stop-color="#dfdfdf"/><stop offset="0.31" stop-color="#ebebeb"/><stop offset="0.38" stop-color="#f5f5f5"/><stop offset="0.44" stop-color="#fcfcfc"/><stop offset="0.5" stop-color="#ffffff"/><stop offset="0.56" stop-color="#fcfcfc"/><stop offset="0.62" stop-color="#f5f5f5"/><stop offset="0.69" stop-color="#ebebeb"/><stop offset="0.75" stop-color="#dfdfdf"/><stop offset="0.81" stop-color="#d3d3d3"/><stop offset="0.88" stop-color="#c8c8c8"/><stop offset="0.94" stop-color="#bfbfbf"/><stop offset="1" stop-color="#b8b8b8"/></linearGradient>
<filter id="f14" filterUnits="userSpaceOnUse" x="159.5" y="972.2" width="62.8" height="299.6" color-interpolation-filters="sRGB"><feTurbulence type="fractalNoise" baseFrequency="0.004 0.85" numOctaves="2" seed="21" result="t"/><feColorMatrix in="t" type="matrix" values="1.9 0 0 0 -0.33 1.9 0 0 0 -0.33 1.9 0 0 0 -0.33 0 0 0 0 1" result="na"/><feComposite in="SourceGraphic" in2="na" operator="arithmetic" k1="1" k2="0" k3="0" k4="0" result="v"/><feComponentTransfer in="v"><feFuncR type="table" tableValues="1 0.998 0.996 0.994 0.992 0.987 0.982 0.977 0.973 0.965 0.957 0.949 0.941 0.927 0.914 0.9 0.886"/><feFuncG type="table" tableValues="0.996 0.978 0.961 0.943 0.925 0.886 0.847 0.808 0.769 0.724 0.678 0.633 0.588 0.544 0.5 0.456 0.412"/><feFuncB type="table" tableValues="0.886 0.858 0.829 0.801 0.773 0.736 0.7 0.664 0.627 0.596 0.565 0.533 0.502 0.475 0.447 0.42 0.392"/></feComponentTransfer></filter>
<g filter="url(#f14)"><rect x="159.5" y="972.2" width="62.8" height="299.6" fill="url(#g13)"/></g>
<linearGradient id="g15" gradientUnits="userSpaceOnUse" x1="159.5" y1="0" x2="222.3" y2="0"><stop offset="0" stop-color="#d9d9d9"/><stop offset="0.06" stop-color="#dedede"/><stop offset="0.12" stop-color="#e3e3e3"/><stop offset="0.19" stop-color="#eaeaea"/><stop offset="0.25" stop-color="#f0f0f0"/><stop offset="0.31" stop-color="#f6f6f6"/><stop offset="0.38" stop-color="#fbfbfb"/><stop offset="0.44" stop-color="#fefefe"/><stop offset="0.5" stop-color="#ffffff"/><stop offset="0.56" stop-color="#fefefe"/><stop offset="0.62" stop-color="#fbfbfb"/><stop offset="0.69" stop-color="#f6f6f6"/><stop offset="0.75" stop-color="#f0f0f0"/><stop offset="0.81" stop-color="#eaeaea"/><stop offset="0.88" stop-color="#e3e3e3"/><stop offset="0.94" stop-color="#dedede"/><stop offset="1" stop-color="#d9d9d9"/></linearGradient>
<filter id="f16" filterUnits="userSpaceOnUse" x="159.5" y="1276.2" width="62.8" height="179.2" color-interpolation-filters="sRGB"><feTurbulence type="fractalNoise" baseFrequency="0.004 0.85" numOctaves="2" seed="22" result="t"/><feColorMatrix in="t" type="matrix" values="1.413 0 0 0 -0.413 1.413 0 0 0 -0.413 1.413 0 0 0 -0.413 0 0 0 0 1" result="na"/><feComposite in="SourceGraphic" in2="na" operator="arithmetic" k1="1" k2="0" k3="0" k4="0" result="v"/><feComponentTransfer in="v"><feFuncR type="table" tableValues="1 0.998 0.996 0.994 0.992 0.987 0.982 0.977 0.973 0.965 0.957 0.949 0.941 0.927 0.914 0.9 0.886"/><feFuncG type="table" tableValues="0.996 0.978 0.961 0.943 0.925 0.886 0.847 0.808 0.769 0.724 0.678 0.633 0.588 0.544 0.5 0.456 0.412"/><feFuncB type="table" tableValues="0.886 0.858 0.829 0.801 0.773 0.736 0.7 0.664 0.627 0.596 0.565 0.533 0.502 0.475 0.447 0.42 0.392"/></feComponentTransfer></filter>
<g filter="url(#f16)"><rect x="159.5" y="1276.2" width="62.8" height="179.2" fill="url(#g15)"/></g>
<rect x="159.5" y="1451.6" width="62.8" height="3.2" fill="#e98a84" opacity="0.75"/>
<linearGradient id="g17" gradientUnits="userSpaceOnUse" x1="226.9" y1="0" x2="289.7" y2="0"><stop offset="0" stop-color="#c9c9c9"/><stop offset="0.06" stop-color="#cdcdcd"/><stop offset="0.12" stop-color="#d3d3d3"/><stop offset="0.19" stop-color="#dbdbdb"/><stop offset="0.25" stop-color="#e3e3e3"/><stop offset="0.31" stop-color="#ececec"/><stop offset="0.38" stop-color="#f4f4f4"/><stop offset="0.44" stop-color="#fafafa"/><stop offset="0.5" stop-color="#fefefe"/><stop offset="0.56" stop-color="#ffffff"/><stop offset="0.62" stop-color="#fdfdfd"/><stop offset="0.69" stop-color="#f8f8f8"/><stop offset="0.75" stop-color="#f1f1f1"/><stop offset="0.81" stop-color="#e8e8e8"/><stop offset="0.88" stop-color="#e0e0e0"/><stop offset="0.94" stop-color="#d8d8d8"/><stop offset="1" stop-color="#d1d1d1"/></linearGradient>
<filter id="f18" filterUnits="userSpaceOnUse" x="226.9" y="972.2" width="62.8" height="299.6" color-interpolation-filters="sRGB"><feTurbulence type="fractalNoise" baseFrequency="0.004 0.85" numOctaves="2" seed="23" result="t"/><feColorMatrix in="t" type="matrix" values="1.5 0 0 0 -0.27 1.5 0 0 0 -0.27 1.5 0 0 0 -0.27 0 0 0 0 1" result="na"/><feComposite in="SourceGraphic" in2="na" operator="arithmetic" k1="1" k2="0" k3="0" k4="0" result="v"/><feComponentTransfer in="v"><feFuncR type="table" tableValues="1 0.998 0.996 0.994 0.992 0.987 0.982 0.977 0.973 0.965 0.957 0.949 0.941 0.927 0.914 0.9 0.886"/><feFuncG type="table" tableValues="0.996 0.978 0.961 0.943 0.925 0.886 0.847 0.808 0.769 0.724 0.678 0.633 0.588 0.544 0.5 0.456 0.412"/><feFuncB type="table" tableValues="0.886 0.858 0.829 0.801 0.773 0.736 0.7 0.664 0.627 0.596 0.565 0.533 0.502 0.475 0.447 0.42 0.392"/></feComponentTransfer></filter>
<g filter="url(#f18)"><rect x="226.9" y="972.2" width="62.8" height="299.6" fill="url(#g17)"/></g>
<linearGradient id="g19" gradientUnits="userSpaceOnUse" x1="226.9" y1="0" x2="289.7" y2="0"><stop offset="0" stop-color="#d9d9d9"/><stop offset="0.06" stop-color="#dedede"/><stop offset="0.12" stop-color="#e3e3e3"/><stop offset="0.19" stop-color="#eaeaea"/><stop offset="0.25" stop-color="#f0f0f0"/><stop offset="0.31" stop-color="#f6f6f6"/><stop offset="0.38" stop-color="#fbfbfb"/><stop offset="0.44" stop-color="#fefefe"/><stop offset="0.5" stop-color="#ffffff"/><stop offset="0.56" stop-color="#fefefe"/><stop offset="0.62" stop-color="#fbfbfb"/><stop offset="0.69" stop-color="#f6f6f6"/><stop offset="0.75" stop-color="#f0f0f0"/><stop offset="0.81" stop-color="#eaeaea"/><stop offset="0.88" stop-color="#e3e3e3"/><stop offset="0.94" stop-color="#dedede"/><stop offset="1" stop-color="#d9d9d9"/></linearGradient>
<filter id="f20" filterUnits="userSpaceOnUse" x="226.9" y="1276.2" width="62.8" height="179.2" color-interpolation-filters="sRGB"><feTurbulence type="fractalNoise" baseFrequency="0.004 0.85" numOctaves="2" seed="24" result="t"/><feColorMatrix in="t" type="matrix" values="1.379 0 0 0 -0.379 1.379 0 0 0 -0.379 1.379 0 0 0 -0.379 0 0 0 0 1" result="na"/><feComposite in="SourceGraphic" in2="na" operator="arithmetic" k1="1" k2="0" k3="0" k4="0" result="v"/><feComponentTransfer in="v"><feFuncR type="table" tableValues="1 0.998 0.996 0.994 0.992 0.987 0.982 0.977 0.973 0.965 0.957 0.949 0.941 0.927 0.914 0.9 0.886"/><feFuncG type="table" tableValues="0.996 0.978 0.961 0.943 0.925 0.886 0.847 0.808 0.769 0.724 0.678 0.633 0.588 0.544 0.5 0.456 0.412"/><feFuncB type="table" tableValues="0.886 0.858 0.829 0.801 0.773 0.736 0.7 0.664 0.627 0.596 0.565 0.533 0.502 0.475 0.447 0.42 0.392"/></feComponentTransfer></filter>
<g filter="url(#f20)"><rect x="226.9" y="1276.2" width="62.8" height="179.2" fill="url(#g19)"/></g>
<rect x="226.9" y="1451.6" width="62.8" height="3.2" fill="#e98a84" opacity="0.75"/>
<linearGradient id="g21" gradientUnits="userSpaceOnUse" x1="294" y1="0" x2="356.8" y2="0"><stop offset="0" stop-color="#080808"/><stop offset="0.06" stop-color="#141414"/><stop offset="0.12" stop-color="#292929"/><stop offset="0.19" stop-color="#4a4a4a"/><stop offset="0.25" stop-color="#797979"/><stop offset="0.31" stop-color="#aeaeae"/><stop offset="0.38" stop-color="#dedede"/><stop offset="0.44" stop-color="#fbfbfb"/><stop offset="0.5" stop-color="#fbfbfb"/><stop offset="0.56" stop-color="#dfdfdf"/><stop offset="0.62" stop-color="#b0b0b0"/><stop offset="0.69" stop-color="#7b7b7b"/><stop offset="0.75" stop-color="#4c4c4c"/><stop offset="0.81" stop-color="#2a2a2a"/><stop offset="0.88" stop-color="#141414"/><stop offset="0.94" stop-color="#090909"/><stop offset="1" stop-color="#030303"/></linearGradient>
<filter id="f22" filterUnits="userSpaceOnUse" x="294" y="972.2" width="62.8" height="299.6" color-interpolation-filters="sRGB"><feTurbulence type="fractalNoise" baseFrequency="0.03 0.85" numOctaves="2" seed="25" result="t"/><feColorMatrix in="t" type="matrix" values="0.667 0 0 0 0 0.667 0 0 0 0 0.667 0 0 0 0 0 0 0 0 1" result="na"/><feComposite in="SourceGraphic" in2="na" operator="arithmetic" k1="1" k2="0" k3="0" k4="0" result="v"/><feColorMatrix in="t" type="matrix" values="0.489 0 0 0 -0.156 0.489 0 0 0 -0.156 0.489 0 0 0 -0.156 0 0 0 0 1" result="nc"/><feComposite in="v" in2="nc" operator="arithmetic" k1="0" k2="1" k3="1" k4="0" result="v"/><feComponentTransfer in="v"><feFuncR type="table" tableValues="1 0.998 0.996 0.994 0.992 0.987 0.982 0.977 0.973 0.965 0.957 0.949 0.941 0.927 0.914 0.9 0.886"/><feFuncG type="table" tableValues="0.996 0.978 0.961 0.943 0.925 0.886 0.847 0.808 0.769 0.724 0.678 0.633 0.588 0.544 0.5 0.456 0.412"/><feFuncB type="table" tableValues="0.886 0.858 0.829 0.801 0.773 0.736 0.7 0.664 0.627 0.596 0.565 0.533 0.502 0.475 0.447 0.42 0.392"/></feComponentTransfer></filter>
<linearGradient id="v23" gradientUnits="userSpaceOnUse" x1="0" y1="972.2" x2="0" y2="1271.8"><stop offset="0" stop-color="#000" stop-opacity="0"/><stop offset="0.2" stop-color="#000" stop-opacity="0"/><stop offset="0.3" stop-color="#000" stop-opacity="0.6"/><stop offset="1" stop-color="#000" stop-opacity="0.7"/></linearGradient>
<g filter="url(#f22)"><rect x="294" y="972.2" width="62.8" height="299.6" fill="url(#g21)"/><rect x="294" y="972.2" width="62.8" height="299.6" fill="url(#v23)"/></g>
<linearGradient id="g24" gradientUnits="userSpaceOnUse" x1="294" y1="0" x2="356.8" y2="0"><stop offset="0" stop-color="#000000"/><stop offset="0.06" stop-color="#000000"/><stop offset="0.12" stop-color="#010101"/><stop offset="0.19" stop-color="#050505"/><stop offset="0.25" stop-color="#171717"/><stop offset="0.31" stop-color="#4a4a4a"/><stop offset="0.38" stop-color="#a2a2a2"/><stop offset="0.44" stop-color="#f2f2f2"/><stop offset="0.5" stop-color="#f4f4f4"/><stop offset="0.56" stop-color="#a6a6a6"/><stop offset="0.62" stop-color="#4d4d4d"/><stop offset="0.69" stop-color="#181818"/><stop offset="0.75" stop-color="#050505"/><stop offset="0.81" stop-color="#010101"/><stop offset="0.88" stop-color="#000000"/><stop offset="0.94" stop-color="#000000"/><stop offset="1" stop-color="#000000"/></linearGradient>
<filter id="f25" filterUnits="userSpaceOnUse" x="294" y="1276.2" width="62.8" height="179.2" color-interpolation-filters="sRGB"><feTurbulence type="fractalNoise" baseFrequency="0.004 0.85" numOctaves="2" seed="26" result="t"/><feColorMatrix in="t" type="matrix" values="0.894 0 0 0 -0.089 0.894 0 0 0 -0.089 0.894 0 0 0 -0.089 0 0 0 0 1" result="na"/><feComposite in="SourceGraphic" in2="na" operator="arithmetic" k1="1" k2="0" k3="0" k4="0" result="v"/><feColorMatrix in="t" type="matrix" values="0.279 0 0 0 -0.084 0.279 0 0 0 -0.084 0.279 0 0 0 -0.084 0 0 0 0 1" result="nc"/><feComposite in="v" in2="nc" operator="arithmetic" k1="0" k2="1" k3="1" k4="0" result="v"/><feComponentTransfer in="v"><feFuncR type="table" tableValues="1 0.998 0.996 0.994 0.992 0.987 0.982 0.977 0.973 0.965 0.957 0.949 0.941 0.927 0.914 0.9 0.886"/><feFuncG type="table" tableValues="0.996 0.978 0.961 0.943 0.925 0.886 0.847 0.808 0.769 0.724 0.678 0.633 0.588 0.544 0.5 0.456 0.412"/><feFuncB type="table" tableValues="0.886 0.858 0.829 0.801 0.773 0.736 0.7 0.664 0.627 0.596 0.565 0.533 0.502 0.475 0.447 0.42 0.392"/></feComponentTransfer></filter>
<g filter="url(#f25)"><rect x="294" y="1276.2" width="62.8" height="179.2" fill="url(#g24)"/></g>
<rect x="294" y="1451.6" width="62.8" height="3.2" fill="#e98a84" opacity="0.5"/>
<linearGradient id="g26" gradientUnits="userSpaceOnUse" x1="361.3" y1="0" x2="424.2" y2="0"><stop offset="0" stop-color="#1a1a1a"/><stop offset="0.06" stop-color="#2e2e2e"/><stop offset="0.12" stop-color="#4b4b4b"/><stop offset="0.19" stop-color="#707070"/><stop offset="0.25" stop-color="#9b9b9b"/><stop offset="0.31" stop-color="#c5c5c5"/><stop offset="0.38" stop-color="#e8e8e8"/><stop offset="0.44" stop-color="#fcfcfc"/><stop offset="0.5" stop-color="#fdfdfd"/><stop offset="0.56" stop-color="#e9e9e9"/><stop offset="0.62" stop-color="#c7c7c7"/><stop offset="0.69" stop-color="#9c9c9c"/><stop offset="0.75" stop-color="#717171"/><stop offset="0.81" stop-color="#4c4c4c"/><stop offset="0.88" stop-color="#2f2f2f"/><stop offset="0.94" stop-color="#1b1b1b"/><stop offset="1" stop-color="#0e0e0e"/></linearGradient>
<filter id="f27" filterUnits="userSpaceOnUse" x="361.3" y="972.2" width="62.9" height="299.6" color-interpolation-filters="sRGB"><feTurbulence type="fractalNoise" baseFrequency="0.03 0.85" numOctaves="2" seed="27" result="t"/><feColorMatrix in="t" type="matrix" values="0.8 0 0 0 0.02 0.8 0 0 0 0.02 0.8 0 0 0 0.02 0 0 0 0 1" result="na"/><feComposite in="SourceGraphic" in2="na" operator="arithmetic" k1="1" k2="0" k3="0" k4="0" result="v"/><feColorMatrix in="t" type="matrix" values="0.35 0 0 0 -0.075 0.35 0 0 0 -0.075 0.35 0 0 0 -0.075 0 0 0 0 1" result="nc"/><feComposite in="v" in2="nc" operator="arithmetic" k1="0" k2="1" k3="1" k4="0" result="v"/><feComponentTransfer in="v"><feFuncR type="table" tableValues="1 0.998 0.996 0.994 0.992 0.987 0.982 0.977 0.973 0.965 0.957 0.949 0.941 0.927 0.914 0.9 0.886"/><feFuncG type="table" tableValues="0.996 0.978 0.961 0.943 0.925 0.886 0.847 0.808 0.769 0.724 0.678 0.633 0.588 0.544 0.5 0.456 0.412"/><feFuncB type="table" tableValues="0.886 0.858 0.829 0.801 0.773 0.736 0.7 0.664 0.627 0.596 0.565 0.533 0.502 0.475 0.447 0.42 0.392"/></feComponentTransfer></filter>
<linearGradient id="v28" gradientUnits="userSpaceOnUse" x1="0" y1="972.2" x2="0" y2="1271.8"><stop offset="0" stop-color="#000" stop-opacity="0"/><stop offset="0.17" stop-color="#000" stop-opacity="0"/><stop offset="0.27" stop-color="#000" stop-opacity="0.45"/><stop offset="1" stop-color="#000" stop-opacity="0.5"/></linearGradient>
<g filter="url(#f27)"><rect x="361.3" y="972.2" width="62.9" height="299.6" fill="url(#g26)"/><rect x="361.3" y="972.2" width="62.9" height="299.6" fill="url(#v28)"/></g>
<linearGradient id="g29" gradientUnits="userSpaceOnUse" x1="361.3" y1="0" x2="424.2" y2="0"><stop offset="0" stop-color="#030303"/><stop offset="0.06" stop-color="#0a0a0a"/><stop offset="0.12" stop-color="#191919"/><stop offset="0.19" stop-color="#363636"/><stop offset="0.25" stop-color="#636363"/><stop offset="0.31" stop-color="#9d9d9d"/><stop offset="0.38" stop-color="#d6d6d6"/><stop offset="0.44" stop-color="#fafafa"/><stop offset="0.5" stop-color="#fbfbfb"/><stop offset="0.56" stop-color="#d8d8d8"/><stop offset="0.62" stop-color="#9f9f9f"/><stop offset="0.69" stop-color="#656565"/><stop offset="0.75" stop-color="#373737"/><stop offset="0.81" stop-color="#1a1a1a"/><stop offset="0.88" stop-color="#0a0a0a"/><stop offset="0.94" stop-color="#040404"/><stop offset="1" stop-color="#010101"/></linearGradient>
<filter id="f30" filterUnits="userSpaceOnUse" x="361.3" y="1276.2" width="62.9" height="179.2" color-interpolation-filters="sRGB"><feTurbulence type="fractalNoise" baseFrequency="0.004 0.85" numOctaves="2" seed="28" result="t"/><feColorMatrix in="t" type="matrix" values="0.86 0 0 0 -0.108 0.86 0 0 0 -0.108 0.86 0 0 0 -0.108 0 0 0 0 1" result="na"/><feComposite in="SourceGraphic" in2="na" operator="arithmetic" k1="1" k2="0" k3="0" k4="0" result="v"/><feColorMatrix in="t" type="matrix" values="0.323 0 0 0 -0.075 0.323 0 0 0 -0.075 0.323 0 0 0 -0.075 0 0 0 0 1" result="nc"/><feComposite in="v" in2="nc" operator="arithmetic" k1="0" k2="1" k3="1" k4="0" result="v"/><feComponentTransfer in="v"><feFuncR type="table" tableValues="1 0.998 0.996 0.994 0.992 0.987 0.982 0.977 0.973 0.965 0.957 0.949 0.941 0.927 0.914 0.9 0.886"/><feFuncG type="table" tableValues="0.996 0.978 0.961 0.943 0.925 0.886 0.847 0.808 0.769 0.724 0.678 0.633 0.588 0.544 0.5 0.456 0.412"/><feFuncB type="table" tableValues="0.886 0.858 0.829 0.801 0.773 0.736 0.7 0.664 0.627 0.596 0.565 0.533 0.502 0.475 0.447 0.42 0.392"/></feComponentTransfer></filter>
<linearGradient id="v31" gradientUnits="userSpaceOnUse" x1="0" y1="1276.2" x2="0" y2="1455.4"><stop offset="0" stop-color="#000" stop-opacity="0.6"/><stop offset="0.7" stop-color="#000" stop-opacity="0.6"/><stop offset="0.78" stop-color="#000" stop-opacity="0"/><stop offset="1" stop-color="#000" stop-opacity="0"/></linearGradient>
<g filter="url(#f30)"><rect x="361.3" y="1276.2" width="62.9" height="179.2" fill="url(#g29)"/><rect x="361.3" y="1276.2" width="62.9" height="179.2" fill="url(#v31)"/></g>
<rect x="361.3" y="1451.6" width="62.9" height="3.2" fill="#e98a84" opacity="0.5"/>
<linearGradient id="g32" gradientUnits="userSpaceOnUse" x1="428.3" y1="0" x2="491" y2="0"><stop offset="0" stop-color="#000000"/><stop offset="0.06" stop-color="#000000"/><stop offset="0.12" stop-color="#000000"/><stop offset="0.19" stop-color="#010101"/><stop offset="0.25" stop-color="#050505"/><stop offset="0.31" stop-color="#1d1d1d"/><stop offset="0.38" stop-color="#616161"/><stop offset="0.44" stop-color="#c8c8c8"/><stop offset="0.5" stop-color="#ffffff"/><stop offset="0.56" stop-color="#c8c8c8"/><stop offset="0.62" stop-color="#616161"/><stop offset="0.69" stop-color="#1d1d1d"/><stop offset="0.75" stop-color="#050505"/><stop offset="0.81" stop-color="#010101"/><stop offset="0.88" stop-color="#000000"/><stop offset="0.94" stop-color="#000000"/><stop offset="1" stop-color="#000000"/></linearGradient>
<filter id="f33" filterUnits="userSpaceOnUse" x="428.3" y="972.2" width="62.7" height="299.6" color-interpolation-filters="sRGB"><feTurbulence type="fractalNoise" baseFrequency="0.004 0.85" numOctaves="2" seed="29" result="t"/><feColorMatrix in="t" type="matrix" values="2.8 0 0 0 -1.2 2.8 0 0 0 -1.2 2.8 0 0 0 -1.2 0 0 0 0 1" result="na"/><feComposite in="SourceGraphic" in2="na" operator="arithmetic" k1="1" k2="0" k3="0" k4="0" result="v"/><feColorMatrix in="t" type="matrix" values="0.3 0 0 0 -0.1 0.3 0 0 0 -0.1 0.3 0 0 0 -0.1 0 0 0 0 1" result="nc"/><feComposite in="v" in2="nc" operator="arithmetic" k1="0" k2="1" k3="1" k4="0" result="v"/><feComponentTransfer in="v"><feFuncR type="table" tableValues="1 0.998 0.996 0.994 0.992 0.987 0.982 0.977 0.973 0.965 0.957 0.949 0.941 0.927 0.914 0.9 0.886"/><feFuncG type="table" tableValues="0.996 0.978 0.961 0.943 0.925 0.886 0.847 0.808 0.769 0.724 0.678 0.633 0.588 0.544 0.5 0.456 0.412"/><feFuncB type="table" tableValues="0.886 0.858 0.829 0.801 0.773 0.736 0.7 0.664 0.627 0.596 0.565 0.533 0.502 0.475 0.447 0.42 0.392"/></feComponentTransfer></filter>
<linearGradient id="v34" gradientUnits="userSpaceOnUse" x1="0" y1="972.2" x2="0" y2="1271.8"><stop offset="0" stop-color="#000" stop-opacity="0"/><stop offset="0.25" stop-color="#000" stop-opacity="0"/><stop offset="0.4" stop-color="#000" stop-opacity="0.3"/><stop offset="1" stop-color="#000" stop-opacity="0.3"/></linearGradient>
<g filter="url(#f33)"><rect x="428.3" y="972.2" width="62.7" height="299.6" fill="url(#g32)"/><rect x="428.3" y="972.2" width="62.7" height="299.6" fill="url(#v34)"/></g>
<linearGradient id="g35" gradientUnits="userSpaceOnUse" x1="428.3" y1="0" x2="491" y2="0"><stop offset="0" stop-color="#000000"/><stop offset="0.06" stop-color="#000000"/><stop offset="0.12" stop-color="#000000"/><stop offset="0.19" stop-color="#000000"/><stop offset="0.25" stop-color="#030303"/><stop offset="0.31" stop-color="#161616"/><stop offset="0.38" stop-color="#565656"/><stop offset="0.44" stop-color="#c3c3c3"/><stop offset="0.5" stop-color="#ffffff"/><stop offset="0.56" stop-color="#c3c3c3"/><stop offset="0.62" stop-color="#565656"/><stop offset="0.69" stop-color="#161616"/><stop offset="0.75" stop-color="#030303"/><stop offset="0.81" stop-color="#000000"/><stop offset="0.88" stop-color="#000000"/><stop offset="0.94" stop-color="#000000"/><stop offset="1" stop-color="#000000"/></linearGradient>
<filter id="f36" filterUnits="userSpaceOnUse" x="428.3" y="1276.2" width="62.7" height="179.2" color-interpolation-filters="sRGB"><feTurbulence type="fractalNoise" baseFrequency="0.004 0.85" numOctaves="2" seed="30" result="t"/><feColorMatrix in="t" type="matrix" values="2 0 0 0 -0.5 2 0 0 0 -0.5 2 0 0 0 -0.5 0 0 0 0 1" result="na"/><feComposite in="SourceGraphic" in2="na" operator="arithmetic" k1="1" k2="0" k3="0" k4="0" result="v"/><feColorMatrix in="t" type="matrix" values="0.3 0 0 0 -0.08 0.3 0 0 0 -0.08 0.3 0 0 0 -0.08 0 0 0 0 1" result="nc"/><feComposite in="v" in2="nc" operator="arithmetic" k1="0" k2="1" k3="1" k4="0" result="v"/><feComponentTransfer in="v"><feFuncR type="table" tableValues="1 0.998 0.996 0.994 0.992 0.987 0.982 0.977 0.973 0.965 0.957 0.949 0.941 0.927 0.914 0.9 0.886"/><feFuncG type="table" tableValues="0.996 0.978 0.961 0.943 0.925 0.886 0.847 0.808 0.769 0.724 0.678 0.633 0.588 0.544 0.5 0.456 0.412"/><feFuncB type="table" tableValues="0.886 0.858 0.829 0.801 0.773 0.736 0.7 0.664 0.627 0.596 0.565 0.533 0.502 0.475 0.447 0.42 0.392"/></feComponentTransfer></filter>
<g filter="url(#f36)"><rect x="428.3" y="1276.2" width="62.7" height="179.2" fill="url(#g35)"/></g>
<rect x="428.3" y="1451.6" width="62.7" height="3.2" fill="#e98a84" opacity="0.5"/>
<linearGradient id="g37" gradientUnits="userSpaceOnUse" x1="495.1" y1="0" x2="557.9" y2="0"><stop offset="0" stop-color="#a7a7a7"/><stop offset="0.06" stop-color="#afafaf"/><stop offset="0.12" stop-color="#bababa"/><stop offset="0.19" stop-color="#c8c8c8"/><stop offset="0.25" stop-color="#d7d7d7"/><stop offset="0.31" stop-color="#e6e6e6"/><stop offset="0.38" stop-color="#f3f3f3"/><stop offset="0.44" stop-color="#fcfcfc"/><stop offset="0.5" stop-color="#ffffff"/><stop offset="0.56" stop-color="#fcfcfc"/><stop offset="0.62" stop-color="#f3f3f3"/><stop offset="0.69" stop-color="#e6e6e6"/><stop offset="0.75" stop-color="#d7d7d7"/><stop offset="0.81" stop-color="#c8c8c8"/><stop offset="0.88" stop-color="#bababa"/><stop offset="0.94" stop-color="#afafaf"/><stop offset="1" stop-color="#a7a7a7"/></linearGradient>
<filter id="f38" filterUnits="userSpaceOnUse" x="495.1" y="972.2" width="62.8" height="299.6" color-interpolation-filters="sRGB"><feTurbulence type="fractalNoise" baseFrequency="0.03 0.85" numOctaves="2" seed="31" result="t"/><feColorMatrix in="t" type="matrix" values="1.4 0 0 0 -0.4 1.4 0 0 0 -0.4 1.4 0 0 0 -0.4 0 0 0 0 1" result="na"/><feComposite in="SourceGraphic" in2="na" operator="arithmetic" k1="1" k2="0" k3="0" k4="0" result="v"/><feComponentTransfer in="v"><feFuncR type="table" tableValues="1 0.998 0.996 0.994 0.992 0.987 0.982 0.977 0.973 0.965 0.957 0.949 0.941 0.927 0.914 0.9 0.886"/><feFuncG type="table" tableValues="0.996 0.978 0.961 0.943 0.925 0.886 0.847 0.808 0.769 0.724 0.678 0.633 0.588 0.544 0.5 0.456 0.412"/><feFuncB type="table" tableValues="0.886 0.858 0.829 0.801 0.773 0.736 0.7 0.664 0.627 0.596 0.565 0.533 0.502 0.475 0.447 0.42 0.392"/></feComponentTransfer></filter>
<g filter="url(#f38)"><rect x="495.1" y="972.2" width="62.8" height="299.6" fill="url(#g37)"/></g>
<linearGradient id="g39" gradientUnits="userSpaceOnUse" x1="495.1" y1="0" x2="557.9" y2="0"><stop offset="0" stop-color="#000000"/><stop offset="0.06" stop-color="#000000"/><stop offset="0.12" stop-color="#000000"/><stop offset="0.19" stop-color="#000000"/><stop offset="0.25" stop-color="#000000"/><stop offset="0.31" stop-color="#080808"/><stop offset="0.38" stop-color="#494949"/><stop offset="0.44" stop-color="#dcdcdc"/><stop offset="0.5" stop-color="#e1e1e1"/><stop offset="0.56" stop-color="#4e4e4e"/><stop offset="0.62" stop-color="#090909"/><stop offset="0.69" stop-color="#000000"/><stop offset="0.75" stop-color="#000000"/><stop offset="0.81" stop-color="#000000"/><stop offset="0.88" stop-color="#000000"/><stop offset="0.94" stop-color="#000000"/><stop offset="1" stop-color="#000000"/></linearGradient>
<filter id="f40" filterUnits="userSpaceOnUse" x="495.1" y="1276.2" width="62.8" height="179.2" color-interpolation-filters="sRGB"><feTurbulence type="fractalNoise" baseFrequency="0.004 0.85" numOctaves="2" seed="32" result="t"/><feColorMatrix in="t" type="matrix" values="1.6 0 0 0 -0.58 1.6 0 0 0 -0.58 1.6 0 0 0 -0.58 0 0 0 0 1" result="na"/><feComposite in="SourceGraphic" in2="na" operator="arithmetic" k1="1" k2="0" k3="0" k4="0" result="v"/><feColorMatrix in="t" type="matrix" values="0.25 0 0 0 -0.075 0.25 0 0 0 -0.075 0.25 0 0 0 -0.075 0 0 0 0 1" result="nc"/><feComposite in="v" in2="nc" operator="arithmetic" k1="0" k2="1" k3="1" k4="0" result="v"/><feComponentTransfer in="v"><feFuncR type="table" tableValues="1 0.998 0.996 0.994 0.992 0.987 0.982 0.977 0.973 0.965 0.957 0.949 0.941 0.927 0.914 0.9 0.886"/><feFuncG type="table" tableValues="0.996 0.978 0.961 0.943 0.925 0.886 0.847 0.808 0.769 0.724 0.678 0.633 0.588 0.544 0.5 0.456 0.412"/><feFuncB type="table" tableValues="0.886 0.858 0.829 0.801 0.773 0.736 0.7 0.664 0.627 0.596 0.565 0.533 0.502 0.475 0.447 0.42 0.392"/></feComponentTransfer></filter>
<g filter="url(#f40)"><rect x="495.1" y="1276.2" width="62.8" height="179.2" fill="url(#g39)"/></g>
<rect x="495.1" y="1451.6" width="62.8" height="3.2" fill="#e98a84" opacity="0.5"/>
<linearGradient id="g41" gradientUnits="userSpaceOnUse" x1="562" y1="0" x2="624.8" y2="0"><stop offset="0" stop-color="#ffffff"/><stop offset="0.06" stop-color="#ffffff"/><stop offset="0.12" stop-color="#ffffff"/><stop offset="0.19" stop-color="#ffffff"/><stop offset="0.25" stop-color="#ffffff"/><stop offset="0.31" stop-color="#ffffff"/><stop offset="0.38" stop-color="#ffffff"/><stop offset="0.44" stop-color="#ffffff"/><stop offset="0.5" stop-color="#ffffff"/><stop offset="0.56" stop-color="#ffffff"/><stop offset="0.62" stop-color="#ffffff"/><stop offset="0.69" stop-color="#ffffff"/><stop offset="0.75" stop-color="#ffffff"/><stop offset="0.81" stop-color="#ffffff"/><stop offset="0.88" stop-color="#ffffff"/><stop offset="0.94" stop-color="#ffffff"/><stop offset="1" stop-color="#ffffff"/></linearGradient>
<filter id="f42" filterUnits="userSpaceOnUse" x="562" y="972.2" width="62.8" height="299.6" color-interpolation-filters="sRGB"><feTurbulence type="fractalNoise" baseFrequency="0.1 0.9" numOctaves="2" seed="33" result="t"/><feColorMatrix in="t" type="matrix" values="0 0 0 0 0 0 0 0 0 0 0 0 0 0 0 0 0 0 0 1" result="na"/><feComposite in="SourceGraphic" in2="na" operator="arithmetic" k1="1" k2="0" k3="0" k4="0" result="v"/><feColorMatrix in="t" type="matrix" values="1.143 0 0 0 -0.143 1.143 0 0 0 -0.143 1.143 0 0 0 -0.143 0 0 0 0 1" result="nc"/><feComposite in="v" in2="nc" operator="arithmetic" k1="0" k2="1" k3="1" k4="0" result="v"/><feComponentTransfer in="v"><feFuncR type="table" tableValues="1 0.998 0.996 0.994 0.992 0.987 0.982 0.977 0.973 0.965 0.957 0.949 0.941 0.927 0.914 0.9 0.886"/><feFuncG type="table" tableValues="0.996 0.978 0.961 0.943 0.925 0.886 0.847 0.808 0.769 0.724 0.678 0.633 0.588 0.544 0.5 0.456 0.412"/><feFuncB type="table" tableValues="0.886 0.858 0.829 0.801 0.773 0.736 0.7 0.664 0.627 0.596 0.565 0.533 0.502 0.475 0.447 0.42 0.392"/></feComponentTransfer></filter>
<g filter="url(#f42)"><rect x="562" y="972.2" width="62.8" height="299.6" fill="url(#g41)"/></g>
<linearGradient id="g43" gradientUnits="userSpaceOnUse" x1="562" y1="0" x2="624.8" y2="0"><stop offset="0" stop-color="#ffffff"/><stop offset="0.06" stop-color="#ffffff"/><stop offset="0.12" stop-color="#ffffff"/><stop offset="0.19" stop-color="#ffffff"/><stop offset="0.25" stop-color="#ffffff"/><stop offset="0.31" stop-color="#ffffff"/><stop offset="0.38" stop-color="#ffffff"/><stop offset="0.44" stop-color="#ffffff"/><stop offset="0.5" stop-color="#ffffff"/><stop offset="0.56" stop-color="#ffffff"/><stop offset="0.62" stop-color="#ffffff"/><stop offset="0.69" stop-color="#ffffff"/><stop offset="0.75" stop-color="#ffffff"/><stop offset="0.81" stop-color="#ffffff"/><stop offset="0.88" stop-color="#ffffff"/><stop offset="0.94" stop-color="#ffffff"/><stop offset="1" stop-color="#ffffff"/></linearGradient>
<filter id="f44" filterUnits="userSpaceOnUse" x="562" y="1276.2" width="62.8" height="179.2" color-interpolation-filters="sRGB"><feTurbulence type="fractalNoise" baseFrequency="0.1 0.9" numOctaves="2" seed="34" result="t"/><feColorMatrix in="t" type="matrix" values="0 0 0 0 0 0 0 0 0 0 0 0 0 0 0 0 0 0 0 1" result="na"/><feComposite in="SourceGraphic" in2="na" operator="arithmetic" k1="1" k2="0" k3="0" k4="0" result="v"/><feColorMatrix in="t" type="matrix" values="1.067 0 0 0 -0.067 1.067 0 0 0 -0.067 1.067 0 0 0 -0.067 0 0 0 0 1" result="nc"/><feComposite in="v" in2="nc" operator="arithmetic" k1="0" k2="1" k3="1" k4="0" result="v"/><feComponentTransfer in="v"><feFuncR type="table" tableValues="1 0.998 0.996 0.994 0.992 0.987 0.982 0.977 0.973 0.965 0.957 0.949 0.941 0.927 0.914 0.9 0.886"/><feFuncG type="table" tableValues="0.996 0.978 0.961 0.943 0.925 0.886 0.847 0.808 0.769 0.724 0.678 0.633 0.588 0.544 0.5 0.456 0.412"/><feFuncB type="table" tableValues="0.886 0.858 0.829 0.801 0.773 0.736 0.7 0.664 0.627 0.596 0.565 0.533 0.502 0.475 0.447 0.42 0.392"/></feComponentTransfer></filter>
<g filter="url(#f44)"><rect x="562" y="1276.2" width="62.8" height="179.2" fill="url(#g43)"/></g>
<rect x="562" y="1451.6" width="62.8" height="3.2" fill="#e98a84" opacity="0.5"/>
<rect x="157.9" y="970.6" width="1.6" height="302.8" fill="#fff"/>
<rect x="222.3" y="970.6" width="4.6" height="302.8" fill="#fff"/>
<rect x="289.7" y="970.6" width="4.3" height="302.8" fill="#fff"/>
<rect x="356.8" y="970.6" width="4.5" height="302.8" fill="#fff"/>
<rect x="424.2" y="970.6" width="4.1" height="302.8" fill="#fff"/>
<rect x="491" y="970.6" width="4.1" height="302.8" fill="#fff"/>
<rect x="557.9" y="970.6" width="4.1" height="302.8" fill="#fff"/>
<rect x="624.8" y="970.6" width="1.6" height="302.8" fill="#fff"/>
<rect x="157.9" y="970.6" width="468.5" height="1.6" fill="#fff"/>
<rect x="157.9" y="1271.8" width="468.5" height="1.6" fill="#fff"/>
<rect x="157.9" y="1274.6" width="1.6" height="182.4" fill="#fff"/>
<rect x="222.3" y="1274.6" width="4.6" height="182.4" fill="#fff"/>
<rect x="289.7" y="1274.6" width="4.3" height="182.4" fill="#fff"/>
<rect x="356.8" y="1274.6" width="4.5" height="182.4" fill="#fff"/>
<rect x="424.2" y="1274.6" width="4.1" height="182.4" fill="#fff"/>
<rect x="491" y="1274.6" width="4.1" height="182.4" fill="#fff"/>
<rect x="557.9" y="1274.6" width="4.1" height="182.4" fill="#fff"/>
<rect x="624.8" y="1274.6" width="1.6" height="182.4" fill="#fff"/>
<rect x="157.9" y="1274.6" width="468.5" height="1.6" fill="#fff"/>
<rect x="157.9" y="1455.4" width="468.5" height="1.6" fill="#fff"/>
<text transform="translate(177.63 795.4) scale(1 1.03)" font-size="28.15">Signal around diff SMC1A peaks</text>
<text transform="translate(184.63 839.7) scale(1 1.03)" font-size="28.38">NIPBL</text>
<text transform="translate(312.64 839.7) scale(1 1.03)" font-size="28.09">SMC1A</text>
<rect x="155" y="848" width="131.6" height="4.1" fill="#000"/>
<rect x="290.7" y="848" width="131.6" height="4.1" fill="#000"/>
<text transform="translate(199.1 960.21) rotate(-90) scale(1 1.03)" font-size="28.2">Control</text>
<text transform="translate(266.4 961.06) rotate(-90) scale(1 1.03)" font-size="28.2">Patient</text>
<text transform="translate(333.7 960.21) rotate(-90) scale(1 1.03)" font-size="28.2">Control</text>
<text transform="translate(401 961.06) rotate(-90) scale(1 1.03)" font-size="28.2">Patient</text>
<text transform="translate(468.4 960.21) rotate(-90) scale(1 1.03)" font-size="28.2">CTCF</text>
<text transform="translate(535.7 961.06) rotate(-90) scale(1 1.03)" font-size="28.2">DNase</text>
<text transform="translate(603.1 961.06) rotate(-90) scale(1 1.03)" font-size="28.2">MNase</text>
<text transform="translate(55.26 1136.8) scale(1 1.03)" font-size="28.77">Gain</text>
<text transform="translate(54.11 1385.3) scale(1 1.03)" font-size="28.67">Loss</text>
<rect x="143.2" y="972.2" width="13" height="299.6" fill="#f89ee5"/>
<rect x="143.2" y="1276.2" width="13" height="179.2" fill="#4adffd"/>
<text transform="translate(1053.83 830.5) scale(1 1.03)" font-size="28.2">Bam signal around diff SMC1A peaks</text>
<text transform="translate(1048.61 884) scale(1 1.03)" font-size="28.2">Gain</text>
<text transform="translate(1482.26 883.6) scale(1 1.03)" font-size="28.2">Loss</text>
<rect x="920.2" y="899.3" width="314.3" height="382.5" fill="none" stroke="#909090" stroke-width="1.3"/>
<line x1="920.2" y1="980.58" x2="920.2" y2="1267.8" stroke="#666666" stroke-width="1.2"/>
<line x1="931.6" y1="1281.8" x2="1222.48" y2="1281.8" stroke="#484848" stroke-width="1.3"/>
<line x1="931.6" y1="1281.8" x2="931.6" y2="1289.3" stroke="#606060" stroke-width="1.1"/>
<line x1="1004.32" y1="1281.8" x2="1004.32" y2="1289.3" stroke="#606060" stroke-width="1.1"/>
<line x1="1077.04" y1="1281.8" x2="1077.04" y2="1289.3" stroke="#606060" stroke-width="1.1"/>
<line x1="1149.76" y1="1281.8" x2="1149.76" y2="1289.3" stroke="#606060" stroke-width="1.1"/>
<line x1="1222.48" y1="1281.8" x2="1222.48" y2="1289.3" stroke="#606060" stroke-width="1.1"/>
<line x1="914.2" y1="1267.8" x2="920.2" y2="1267.8" stroke="#606060" stroke-width="1.1"/>
<line x1="914.2" y1="1172.06" x2="920.2" y2="1172.06" stroke="#606060" stroke-width="1.1"/>
<line x1="914.2" y1="1076.32" x2="920.2" y2="1076.32" stroke="#606060" stroke-width="1.1"/>
<line x1="914.2" y1="980.58" x2="920.2" y2="980.58" stroke="#606060" stroke-width="1.1"/>
<text transform="translate(869.79 1272.9) scale(1 1.03)" font-size="28.2">0.0</text>
<text transform="translate(870.21 1177.9) scale(1 1.03)" font-size="28.2">0.2</text>
<text transform="translate(869.65 1082.9) scale(1 1.03)" font-size="28.2">0.4</text>
<text transform="translate(869.93 987.8) scale(1 1.03)" font-size="28.2">0.6</text>
<text transform="translate(903.96 1320.5) scale(1 1.03)" font-size="28.2">-500</text>
<text transform="translate(976.66 1320.5) scale(1 1.03)" font-size="28.2">-250</text>
<text transform="translate(1069.3 1320.5) scale(1 1.03)" font-size="28.2">0</text>
<text transform="translate(1126.01 1320.5) scale(1 1.03)" font-size="28.2">250</text>
<text transform="translate(1198.85 1320.5) scale(1 1.03)" font-size="28.2">500</text>
<text transform="translate(942.3 1359.5) scale(1 1.03)" font-size="28.2">Position around peak</text>
<text transform="translate(833.4 1171.36) rotate(-90) scale(1 1.03)" font-size="28.2">Mean signal</text>
<path d="M931.6,1153.5 933.2,1150.7 934.7,1145.8 935.9,1145.9 937.1,1146.6 938.3,1149.2 939.6,1150.0 940.8,1150.9 942.0,1151.5 943.2,1151.2 944.4,1151.0 945.6,1148.6 946.8,1148.1 948.0,1147.3 949.2,1144.7 950.4,1145.6 951.6,1145.1 952.8,1148.3 954.0,1147.4 955.2,1146.9 956.4,1148.8 957.6,1150.1 958.8,1152.8 960.1,1153.6 961.3,1155.9 962.5,1156.2 963.7,1155.5 964.9,1154.0 966.1,1151.6 967.3,1151.9 968.5,1151.2 969.7,1151.2 970.9,1150.2 972.1,1152.6 973.3,1153.1 974.5,1154.5 975.7,1156.6 976.9,1156.2 978.1,1157.8 979.4,1159.2 980.6,1163.6 981.8,1162.8 983.0,1163.6 984.2,1164.1 985.4,1163.6 986.6,1162.1 987.8,1164.8 989.0,1164.5 990.2,1166.0 991.4,1163.1 992.6,1162.4 993.8,1163.6 995.0,1163.8 996.2,1160.0 997.4,1157.9 998.6,1158.1 999.9,1158.5 1001.1,1159.5 1002.3,1160.7 1003.5,1160.3 1004.7,1162.7 1005.9,1164.9 1007.1,1164.6 1008.3,1163.9 1009.5,1165.1 1010.7,1168.0 1011.9,1166.9 1013.1,1168.3 1014.3,1167.9 1015.5,1169.0 1016.7,1169.5 1017.9,1170.1 1019.2,1172.4 1020.4,1172.2 1021.6,1173.3 1022.7,1171.9 1023.8,1171.0 1024.9,1171.6 1026.0,1168.0 1027.1,1169.9 1028.2,1170.9 1029.4,1169.6 1030.5,1171.2 1031.6,1170.6 1032.7,1168.0 1033.8,1169.7 1034.9,1169.5 1036.0,1169.9 1037.2,1171.7 1038.5,1174.9 1039.7,1175.5 1040.9,1176.3 1042.1,1177.8 1043.3,1176.5 1044.5,1180.4 1045.7,1179.9 1046.9,1182.2 1048.1,1178.9 1049.3,1176.5 1050.5,1175.1 1051.7,1176.1 1052.9,1173.9 1054.1,1170.3 1055.3,1168.0 1056.5,1164.9 1057.7,1166.9 1059.0,1167.6 1060.2,1170.1 1061.4,1169.3 1062.6,1170.8 1063.8,1171.5 1065.0,1172.5 1066.2,1175.3 1067.4,1176.4 1068.6,1177.2 1069.8,1178.4 1071.0,1179.1 1072.2,1176.5 1073.4,1177.9 1074.6,1175.9 1075.8,1177.3 1077.0,1180.5 1078.3,1178.7 1079.5,1177.6 1080.7,1177.5 1081.9,1177.1 1083.1,1176.7 1084.3,1175.4 1085.5,1176.9 1086.7,1177.0 1087.9,1175.6 1089.1,1175.4 1090.3,1175.3 1091.5,1175.3 1092.7,1174.2 1093.9,1173.8 1095.1,1172.1 1096.3,1170.1 1097.5,1169.6 1098.8,1170.8 1100.0,1170.9 1101.2,1169.6 1102.4,1168.8 1103.6,1169.8 1104.8,1172.0 1106.0,1172.8 1107.2,1170.8 1108.4,1171.0 1109.6,1169.6 1110.8,1169.7 1112.0,1171.5 1113.2,1172.3 1114.4,1172.6 1115.6,1172.6 1116.8,1171.5 1118.1,1171.1 1119.3,1168.2 1120.5,1165.8 1121.7,1166.2 1122.9,1168.5 1124.1,1167.1 1125.3,1164.8 1126.5,1165.7 1127.7,1167.6 1128.9,1165.4 1130.1,1166.9 1131.3,1165.9 1132.5,1167.8 1133.7,1166.4 1134.9,1164.4 1136.1,1164.7 1137.3,1161.0 1138.6,1158.3 1139.8,1159.4 1141.0,1155.6 1142.2,1156.9 1143.3,1156.3 1144.4,1155.4 1145.5,1156.8 1146.6,1158.1 1147.7,1159.3 1148.9,1159.8 1150.0,1162.1 1151.1,1159.5 1152.2,1161.1 1153.3,1162.7 1154.4,1166.4 1155.5,1163.8 1156.6,1165.4 1157.9,1163.7 1159.1,1163.1 1160.3,1163.9 1161.5,1163.4 1162.7,1163.9 1163.9,1161.1 1165.1,1160.5 1166.3,1160.7 1167.5,1160.2 1168.7,1158.0 1169.9,1158.5 1171.1,1155.8 1172.3,1157.5 1173.5,1155.8 1174.7,1154.4 1175.9,1153.8 1177.1,1153.9 1178.4,1154.5 1179.6,1152.7 1180.8,1151.6 1182.0,1152.3 1183.2,1150.7 1184.4,1149.0 1185.6,1151.3 1186.8,1150.7 1188.0,1152.2 1189.2,1150.1 1190.4,1147.0 1191.6,1149.9 1192.8,1151.1 1194.0,1153.5 1195.2,1153.3 1196.4,1153.2 1197.7,1153.6 1198.9,1152.9 1200.1,1153.3 1201.3,1150.5 1202.5,1151.0 1203.7,1149.0 1204.9,1148.0 1206.1,1148.4 1207.3,1148.1 1208.5,1145.1 1209.7,1146.9 1210.9,1144.4 1212.0,1144.8 1213.2,1144.8 1214.4,1143.7 1215.5,1142.9 1216.7,1144.2 1217.8,1143.4 1219.0,1142.2 1220.2,1138.7 1221.3,1138.3 1222.5,1140.2" fill="none" stroke="#bebebe" stroke-width="0.85" stroke-linejoin="round"/>
<path d="M931.6,1236.8 932.7,1235.0 933.9,1234.7 935.0,1234.2 936.2,1234.3 937.4,1232.5 938.5,1232.2 939.7,1231.6 940.8,1230.9 942.0,1230.6 943.2,1230.4 944.4,1230.3 945.6,1229.6 946.8,1230.1 948.0,1229.4 949.2,1227.0 950.4,1228.9 951.6,1228.3 952.8,1227.7 954.0,1227.9 955.1,1228.0 956.3,1227.9 957.4,1227.1 958.5,1227.5 959.6,1226.4 960.7,1228.0 961.8,1226.6 962.9,1226.8 964.0,1227.0 965.2,1227.1 966.3,1226.8 967.4,1227.1 968.5,1224.3 969.7,1225.0 970.9,1224.9 972.1,1224.3 973.3,1225.0 974.5,1223.2 975.7,1222.8 976.9,1220.9 978.1,1221.4 979.4,1219.9 980.6,1218.9 981.8,1220.8 983.0,1219.9 984.2,1218.6 985.4,1217.8 986.6,1215.9 987.8,1214.9 989.0,1215.1 990.2,1213.0 991.4,1213.8 992.6,1212.5 993.8,1213.1 995.0,1212.3 996.2,1213.9 997.4,1213.8 998.6,1212.5 999.9,1210.8 1001.1,1210.6 1002.3,1210.8 1003.5,1210.0 1004.7,1210.3 1005.9,1210.7 1007.1,1209.9 1008.3,1210.7 1009.5,1212.6 1010.7,1213.3 1011.9,1215.1 1013.1,1213.6 1014.3,1213.9 1015.5,1212.1 1016.7,1210.3 1017.9,1209.8 1019.2,1208.6 1020.4,1207.3 1021.6,1206.9 1022.8,1207.2 1024.0,1205.0 1025.2,1205.3 1026.4,1205.1 1027.6,1204.8 1028.8,1205.1 1030.0,1203.4 1031.2,1203.9 1032.4,1202.4 1033.6,1201.3 1034.8,1199.9 1036.0,1198.6 1037.2,1197.2 1038.5,1196.5 1039.7,1198.6 1040.9,1199.0 1042.1,1199.4 1043.3,1199.7 1044.5,1199.5 1045.7,1200.5 1046.9,1200.8 1048.1,1198.0 1049.3,1197.9 1050.5,1197.4 1051.7,1196.1 1052.9,1195.5 1054.1,1195.1 1055.3,1195.0 1056.5,1193.9 1057.7,1193.3 1059.0,1191.7 1060.2,1191.0 1061.4,1189.8 1062.6,1189.0 1063.8,1187.7 1065.0,1187.5 1066.2,1187.6 1067.4,1186.0 1068.6,1185.5 1069.8,1185.3 1071.0,1184.6 1072.2,1184.6 1073.4,1183.9 1074.6,1182.3 1075.8,1181.5 1077.0,1182.2 1078.3,1182.9 1079.5,1183.6 1080.7,1183.5 1081.9,1183.6 1083.1,1182.6 1084.3,1184.5 1085.5,1183.8 1086.7,1185.1 1087.9,1184.4 1089.1,1184.7 1090.3,1185.7 1091.5,1185.9 1092.7,1186.1 1093.9,1187.6 1095.1,1188.3 1096.3,1188.6 1097.5,1189.0 1098.8,1189.3 1100.0,1190.3 1101.2,1191.1 1102.4,1192.4 1103.6,1194.0 1104.8,1194.5 1106.0,1194.8 1107.2,1196.1 1108.4,1198.8 1109.6,1200.0 1110.8,1201.3 1112.0,1202.7 1113.2,1204.4 1114.4,1205.1 1115.6,1206.8 1116.8,1207.8 1118.1,1206.2 1119.3,1208.1 1120.5,1211.6 1121.7,1210.5 1122.9,1211.5 1124.1,1213.1 1125.3,1213.5 1126.5,1215.1 1127.7,1214.5 1128.9,1214.7 1130.1,1216.0 1131.3,1216.7 1132.5,1217.2 1133.7,1218.4 1134.9,1218.7 1136.1,1218.7 1137.3,1218.5 1138.6,1219.0 1139.8,1219.0 1141.0,1218.6 1142.2,1219.4 1143.4,1219.7 1144.6,1219.7 1145.8,1220.5 1147.0,1219.9 1148.2,1220.6 1149.4,1220.9 1150.6,1222.7 1151.8,1223.0 1153.0,1224.6 1154.2,1225.2 1155.4,1224.3 1156.6,1223.7 1157.9,1224.6 1159.1,1224.5 1160.3,1224.6 1161.5,1224.1 1162.7,1225.2 1163.9,1225.4 1165.1,1225.7 1166.3,1225.9 1167.5,1226.1 1168.7,1225.8 1169.9,1227.7 1171.1,1228.8 1172.3,1229.9 1173.5,1232.0 1174.7,1231.9 1175.9,1233.1 1177.1,1232.9 1178.4,1233.2 1179.6,1233.4 1180.8,1233.8 1182.0,1232.7 1183.2,1234.0 1184.4,1234.0 1185.6,1233.4 1186.8,1234.1 1188.0,1234.1 1189.2,1234.6 1190.4,1234.4 1191.6,1234.0 1192.8,1232.4 1194.0,1233.9 1195.2,1234.4 1196.4,1234.0 1197.7,1233.5 1198.9,1233.6 1200.1,1232.0 1201.3,1232.3 1202.5,1231.8 1203.7,1230.6 1204.9,1231.0 1206.1,1230.9 1207.3,1231.7 1208.5,1232.3 1209.7,1231.3 1210.9,1231.1 1212.1,1232.9 1213.3,1233.9 1214.5,1234.4 1215.7,1234.2 1216.8,1235.2 1217.9,1235.1 1219.1,1235.6 1220.2,1237.1 1221.4,1237.5 1222.5,1237.2" fill="none" stroke="#cdaa7d" stroke-width="0.85" stroke-linejoin="round"/>
<path d="M931.6,1238.3 933.2,1238.0 934.8,1237.0 936.4,1236.7 938.0,1235.9 939.6,1235.2 941.2,1235.0 942.8,1234.3 944.4,1233.6 946.0,1233.1 947.6,1232.6 949.2,1231.8 950.8,1232.1 952.4,1231.9 954.0,1232.0 955.6,1232.2 957.2,1232.1 958.8,1232.1 960.5,1231.6 962.1,1231.4 963.7,1231.2 965.3,1230.9 966.9,1230.6 968.5,1229.9 970.1,1229.7 971.7,1229.4 973.3,1229.3 974.9,1228.4 976.5,1227.8 978.1,1226.7 979.8,1226.2 981.4,1225.3 983.0,1224.7 984.6,1223.9 986.2,1222.0 987.8,1221.1 989.4,1219.9 991.0,1218.4 992.6,1217.1 994.2,1215.4 995.8,1213.8 997.4,1211.8 999.1,1209.8 1000.7,1207.9 1002.3,1205.9 1003.9,1204.8 1005.5,1203.5 1007.1,1202.7 1008.7,1201.0 1010.3,1199.7 1011.9,1198.4 1013.5,1197.3 1015.1,1197.4 1016.7,1196.0 1018.3,1195.3 1020.0,1194.6 1021.6,1194.4 1023.2,1192.0 1024.8,1190.6 1026.4,1188.6 1028.0,1186.8 1029.6,1184.9 1031.2,1183.3 1032.8,1180.6 1034.4,1178.3 1036.0,1176.1 1037.6,1174.1 1039.3,1170.9 1040.9,1169.0 1042.5,1167.2 1044.1,1164.9 1045.7,1162.9 1047.3,1160.8 1048.9,1159.2 1050.5,1157.1 1052.3,1155.4 1054.1,1153.8 1055.9,1152.2 1057.7,1150.7 1059.4,1150.0 1061.0,1150.1 1062.6,1148.9 1064.2,1147.6 1065.8,1147.5 1067.4,1147.2 1069.1,1146.6 1070.8,1145.8 1072.5,1145.0 1074.1,1144.3 1075.8,1143.8 1077.3,1144.0 1078.9,1144.3 1080.4,1145.2 1081.9,1145.6 1083.7,1147.0 1085.5,1149.4 1087.3,1151.2 1089.1,1152.6 1090.9,1152.1 1092.7,1152.2 1094.5,1151.9 1096.3,1151.6 1098.2,1152.3 1100.0,1153.3 1101.8,1154.7 1103.6,1155.5 1105.2,1156.6 1106.8,1158.3 1108.4,1159.8 1110.0,1161.4 1111.6,1163.0 1113.2,1164.2 1114.8,1166.5 1116.4,1168.9 1118.1,1171.0 1119.7,1173.7 1121.3,1176.4 1122.9,1178.8 1124.5,1181.0 1126.1,1183.3 1127.7,1185.5 1129.3,1187.8 1130.9,1190.3 1132.5,1192.6 1134.1,1194.2 1135.7,1195.6 1137.3,1197.5 1139.0,1199.3 1140.6,1200.6 1142.2,1201.8 1143.8,1203.3 1145.4,1205.0 1147.0,1206.0 1148.6,1207.2 1150.2,1208.4 1151.8,1209.8 1153.4,1211.0 1155.0,1212.8 1156.6,1214.1 1158.3,1215.7 1159.9,1217.0 1161.5,1218.3 1163.1,1219.0 1164.7,1219.9 1166.3,1221.0 1167.9,1222.3 1169.5,1223.4 1171.1,1224.2 1172.7,1225.2 1174.3,1226.2 1175.9,1226.9 1177.6,1227.5 1179.2,1228.2 1180.8,1229.3 1182.4,1230.2 1184.0,1230.7 1185.6,1231.6 1187.2,1231.9 1188.8,1232.1 1190.4,1232.9 1192.0,1233.5 1193.6,1233.6 1195.2,1234.0 1196.8,1234.5 1198.5,1234.7 1200.1,1235.1 1201.7,1235.5 1203.3,1235.3 1204.9,1235.7 1206.5,1236.2 1208.1,1236.5 1209.7,1236.3 1211.3,1236.7 1212.9,1236.7 1214.5,1237.2 1216.1,1237.6 1217.7,1237.8 1219.3,1237.8 1220.9,1237.9 1222.5,1238.4" fill="none" stroke="#ffa500" stroke-width="0.85" stroke-linejoin="round"/>
<path d="M931.6,1260.0 933.2,1260.2 934.8,1260.1 936.4,1260.2 938.0,1260.4 939.6,1260.5 941.2,1260.8 942.8,1260.4 944.4,1260.4 946.0,1260.2 947.6,1260.1 949.2,1260.2 950.8,1260.4 952.4,1260.5 954.0,1260.7 955.6,1261.1 957.2,1260.9 958.8,1260.2 960.5,1260.1 962.1,1259.9 963.7,1259.7 965.3,1260.0 966.9,1259.8 968.5,1259.2 970.1,1259.3 971.7,1259.2 973.3,1258.9 974.9,1258.9 976.5,1259.0 978.1,1259.3 979.8,1259.4 981.4,1259.6 983.0,1260.2 984.6,1259.9 986.2,1259.8 987.8,1259.9 989.6,1259.6 991.4,1258.7 993.2,1258.5 995.0,1257.5 996.6,1257.1 998.2,1257.0 999.9,1256.7 1001.5,1256.4 1003.1,1256.5 1004.7,1256.5 1006.2,1255.8 1007.7,1255.0 1009.2,1254.7 1010.7,1253.9 1012.2,1253.1 1013.7,1252.6 1015.2,1251.6 1016.7,1250.9 1018.2,1250.1 1019.8,1249.2 1021.3,1248.1 1022.8,1247.3 1024.3,1246.2 1025.8,1245.2 1027.3,1244.1 1028.8,1243.7 1030.3,1242.0 1031.8,1240.9 1033.3,1239.3 1034.8,1237.7 1036.3,1236.3 1037.8,1234.8 1039.4,1233.2 1040.9,1231.3 1042.5,1229.8 1044.1,1228.5 1045.7,1226.9 1047.3,1225.5 1048.9,1224.1 1050.5,1222.4 1052.1,1221.3 1053.7,1219.2 1055.3,1217.7 1056.9,1215.7 1058.6,1214.7 1060.2,1213.4 1062.0,1211.7 1063.8,1209.4 1065.6,1206.7 1067.4,1205.1 1069.0,1203.4 1070.6,1201.8 1072.2,1200.6 1073.8,1201.0 1075.4,1201.1 1077.0,1201.4 1078.6,1202.1 1080.1,1204.0 1081.6,1205.1 1083.1,1206.3 1084.8,1206.1 1086.5,1205.7 1088.1,1205.4 1089.8,1204.7 1091.5,1204.4 1093.1,1206.4 1094.7,1208.4 1096.3,1210.0 1098.2,1213.0 1100.0,1216.0 1101.8,1219.1 1103.6,1222.1 1105.2,1224.0 1106.8,1225.8 1108.4,1228.2 1110.0,1230.2 1111.6,1232.1 1113.2,1234.9 1114.8,1236.2 1116.4,1237.5 1118.1,1238.6 1119.7,1239.6 1121.3,1241.3 1122.9,1242.6 1124.5,1243.5 1126.1,1244.8 1127.7,1245.9 1129.3,1246.8 1130.9,1247.6 1132.5,1249.1 1134.0,1249.7 1135.5,1250.0 1137.0,1250.9 1138.6,1251.6 1140.1,1252.3 1141.6,1253.2 1143.1,1253.9 1144.6,1255.1 1146.2,1255.7 1147.8,1256.4 1149.4,1257.4 1151.0,1257.8 1152.6,1258.8 1154.2,1259.5 1155.8,1259.6 1157.4,1259.2 1159.1,1259.2 1160.7,1258.7 1162.3,1258.6 1163.9,1258.6 1165.4,1259.0 1166.9,1259.7 1168.4,1260.2 1169.9,1259.8 1171.4,1259.8 1172.9,1260.3 1174.4,1260.6 1175.9,1260.3 1177.6,1260.5 1179.2,1260.2 1180.8,1260.1 1182.4,1260.0 1184.0,1260.1 1185.6,1260.8 1187.2,1260.8 1188.8,1260.7 1190.4,1261.2 1192.0,1260.8 1193.6,1260.7 1195.2,1260.5 1196.8,1260.8 1198.5,1260.8 1200.1,1261.3 1201.7,1261.2 1203.3,1261.4 1204.9,1261.5 1206.5,1261.3 1208.1,1261.3 1209.7,1261.5 1211.3,1260.9 1212.9,1261.0 1214.5,1261.0 1216.1,1261.0 1217.7,1260.9 1219.3,1260.9 1220.9,1260.6 1222.5,1260.6" fill="none" stroke="#458b00" stroke-width="0.85" stroke-linejoin="round"/>
<path d="M931.6,1251.8 933.1,1251.6 934.6,1252.0 936.1,1251.4 937.6,1251.6 939.2,1251.3 940.7,1251.9 942.2,1252.0 943.7,1252.4 945.2,1252.1 946.7,1252.2 948.2,1252.1 949.8,1251.9 951.3,1252.0 952.8,1251.7 954.3,1251.8 955.8,1252.1 957.3,1252.1 958.8,1252.0 960.4,1252.5 961.9,1252.3 963.4,1252.0 964.9,1252.0 966.4,1251.8 967.9,1251.7 969.4,1251.7 970.9,1252.2 972.4,1252.0 973.9,1252.0 975.4,1252.0 976.9,1252.4 978.4,1252.0 980.0,1251.7 981.5,1252.3 983.0,1251.6 984.6,1251.5 986.2,1251.7 987.8,1252.2 989.4,1251.7 991.0,1251.0 992.6,1251.3 994.2,1251.2 995.8,1251.2 997.4,1251.4 999.1,1251.4 1000.7,1251.5 1002.3,1251.3 1003.9,1251.3 1005.5,1251.1 1007.1,1250.6 1008.7,1249.9 1010.3,1249.7 1011.9,1249.4 1013.5,1248.6 1015.1,1248.2 1016.7,1248.1 1018.3,1247.9 1020.0,1247.6 1021.6,1247.5 1023.2,1247.3 1024.8,1247.2 1026.4,1246.5 1028.0,1247.0 1029.6,1246.8 1031.2,1246.4 1032.7,1246.5 1034.2,1246.3 1035.7,1246.0 1037.2,1246.0 1038.8,1246.2 1040.3,1245.8 1041.8,1245.8 1043.3,1245.8 1044.9,1244.5 1046.5,1243.5 1048.1,1243.0 1049.7,1241.8 1051.3,1241.2 1052.9,1240.9 1054.5,1241.0 1056.1,1240.9 1057.7,1240.2 1059.4,1240.8 1061.0,1240.7 1062.6,1240.7 1064.2,1240.3 1065.9,1239.4 1067.5,1238.9 1069.2,1238.5 1070.9,1238.9 1072.5,1238.3 1074.2,1238.0 1075.8,1237.7 1077.5,1238.2 1079.2,1238.6 1080.9,1238.9 1082.6,1238.8 1084.3,1238.4 1085.8,1238.8 1087.3,1239.1 1088.8,1239.5 1090.3,1239.5 1091.8,1239.3 1093.3,1239.5 1094.8,1239.1 1096.3,1239.0 1097.9,1239.3 1099.6,1239.8 1101.2,1240.7 1102.8,1241.1 1104.4,1241.5 1106.0,1241.6 1107.6,1242.0 1109.2,1242.2 1110.8,1242.6 1112.4,1242.5 1114.0,1242.9 1115.6,1243.4 1117.1,1244.2 1118.7,1244.7 1120.2,1245.3 1121.7,1245.9 1123.2,1245.9 1124.7,1246.3 1126.2,1247.0 1127.7,1247.0 1129.3,1247.3 1130.9,1247.3 1132.5,1247.1 1134.1,1247.5 1135.7,1247.6 1137.3,1248.0 1139.0,1248.2 1140.6,1248.6 1142.2,1248.4 1143.8,1249.4 1145.4,1250.0 1147.0,1250.0 1148.6,1250.0 1150.2,1250.3 1151.8,1250.8 1153.4,1251.2 1155.0,1251.5 1156.6,1251.2 1158.3,1251.1 1159.9,1251.7 1161.5,1251.8 1163.1,1251.4 1164.7,1251.4 1166.3,1251.2 1167.9,1251.2 1169.5,1251.8 1171.1,1251.8 1172.7,1252.2 1174.3,1252.2 1175.9,1251.8 1177.4,1251.7 1179.0,1252.5 1180.5,1252.1 1182.0,1251.8 1183.5,1252.2 1185.0,1252.2 1186.5,1252.1 1188.0,1252.5 1189.5,1251.9 1191.0,1252.1 1192.5,1251.8 1194.0,1251.5 1195.5,1251.5 1197.0,1252.0 1198.6,1252.0 1200.1,1251.6 1201.7,1251.5 1203.3,1252.0 1204.9,1252.3 1206.5,1251.8 1208.1,1252.5 1209.7,1252.1 1211.3,1251.7 1212.9,1251.7 1214.5,1251.9 1216.1,1252.2 1217.7,1252.3 1219.3,1251.9 1220.9,1251.6 1222.5,1251.2" fill="none" stroke="#0000ff" stroke-width="0.85" stroke-linejoin="round"/>
<path d="M931.6,1154.0 933.2,1153.1 934.8,1152.6 936.4,1152.4 938.0,1152.6 939.6,1152.1 941.2,1151.1 942.8,1151.0 944.4,1150.3 946.0,1150.2 947.6,1149.4 949.2,1149.3 950.8,1148.4 952.4,1147.3 954.0,1146.2 955.6,1145.6 957.2,1145.3 958.8,1145.0 960.5,1144.3 962.1,1143.4 963.7,1142.9 965.3,1141.8 966.9,1141.4 968.5,1140.6 970.1,1140.5 971.7,1140.1 973.3,1139.3 974.9,1138.2 976.5,1137.8 978.1,1137.2 979.7,1136.2 981.2,1135.3 982.8,1135.1 984.3,1134.1 985.8,1133.5 987.4,1133.2 988.9,1131.8 990.4,1131.7 992.0,1131.1 993.5,1129.9 995.0,1128.9 996.6,1127.2 998.2,1126.2 999.9,1124.1 1001.5,1123.2 1003.1,1122.0 1004.7,1120.4 1005.9,1115.5 1007.5,1114.5 1009.0,1113.6 1010.6,1113.0 1012.2,1111.7 1013.7,1111.2 1015.3,1110.4 1016.9,1109.2 1018.4,1108.4 1020.0,1107.1 1021.6,1106.2 1023.2,1106.0 1024.8,1106.2 1026.4,1105.6 1028.0,1105.1 1029.6,1104.8 1031.2,1104.3 1032.8,1103.7 1034.4,1104.1 1036.0,1103.5 1037.6,1103.0 1039.3,1102.5 1040.9,1102.5 1042.4,1102.4 1044.0,1101.9 1045.5,1100.6 1047.1,1099.2 1048.6,1097.8 1050.2,1096.3 1051.7,1095.5 1053.3,1095.0 1054.9,1095.2 1056.4,1094.5 1058.0,1093.7 1059.6,1092.9 1061.1,1092.2 1062.7,1092.4 1064.3,1092.3 1065.8,1091.6 1067.4,1091.0 1069.1,1091.2 1070.7,1091.0 1072.4,1091.1 1074.0,1091.0 1075.7,1090.6 1077.3,1090.1 1079.0,1090.2 1080.7,1090.3 1082.6,1096.4 1084.8,1091.9 1086.4,1092.7 1088.0,1093.0 1089.7,1093.7 1091.3,1093.6 1093.0,1094.6 1094.6,1095.2 1096.2,1096.1 1097.9,1096.9 1099.5,1097.1 1101.2,1097.6 1103.0,1098.0 1104.8,1097.7 1106.6,1097.7 1108.4,1097.5 1110.0,1098.4 1111.6,1099.2 1113.2,1099.5 1114.8,1099.8 1116.4,1100.1 1118.1,1101.4 1119.7,1102.0 1121.3,1102.6 1122.9,1103.3 1124.5,1104.0 1126.1,1105.2 1127.7,1106.3 1129.3,1106.3 1130.9,1107.4 1132.5,1108.4 1134.1,1109.1 1135.7,1110.1 1137.3,1111.4 1139.0,1112.7 1140.6,1114.2 1142.2,1115.6 1143.8,1116.3 1145.4,1118.2 1147.0,1119.4 1148.6,1120.5 1150.2,1122.0 1151.8,1123.9 1153.4,1124.5 1155.0,1125.4 1156.6,1126.7 1158.3,1127.4 1159.9,1128.4 1161.5,1129.9 1163.1,1131.5 1164.7,1132.8 1166.3,1134.2 1167.9,1135.2 1169.5,1135.7 1171.1,1136.3 1172.7,1137.0 1174.3,1137.7 1175.9,1138.9 1177.6,1139.9 1179.2,1139.9 1180.8,1141.0 1182.4,1141.5 1184.0,1142.2 1185.6,1143.6 1187.2,1144.8 1188.8,1145.8 1190.4,1146.5 1192.0,1147.6 1193.6,1147.7 1195.2,1148.7 1196.8,1148.9 1198.5,1149.2 1200.1,1149.4 1201.7,1150.6 1203.3,1151.6 1204.9,1152.2 1206.5,1152.3 1208.1,1152.8 1209.7,1153.0 1211.3,1154.0 1212.9,1155.5 1214.5,1156.9 1216.1,1157.8 1217.8,1158.8 1219.4,1159.5 1220.9,1161.0 1222.5,1162.2" fill="none" stroke="#ff0000" stroke-width="0.85" stroke-linejoin="round"/>
<path d="M931.5,1083.2 933.1,1081.8 934.7,1080.1 936.2,1078.4 937.8,1076.5 939.4,1075.0 941.0,1073.8 942.5,1072.3 944.1,1070.9 945.7,1069.1 947.3,1067.5 948.8,1065.8 950.4,1063.6 951.9,1062.3 953.5,1060.8 955.0,1059.3 956.6,1057.0 958.2,1055.0 959.7,1053.4 961.3,1051.9 962.8,1050.6 964.4,1049.0 965.9,1047.3 967.4,1045.1 969.0,1043.2 970.5,1041.4 972.0,1039.1 973.5,1037.7 975.1,1035.7 976.6,1033.9 978.1,1031.5 979.7,1029.6 981.2,1028.0 982.8,1026.5 984.4,1025.1 986.0,1023.6 987.5,1021.8 989.1,1020.0 990.7,1017.3 992.3,1015.1 993.9,1012.2 995.5,1009.7 997.2,1007.1 998.8,1004.0 1000.4,1001.5 1002.0,999.3 1003.6,996.0 1006.2,987.5 1007.8,985.6 1009.4,983.4 1011.0,981.6 1012.5,979.5 1014.1,977.1 1015.7,975.4 1017.3,973.6 1019.0,972.7 1020.7,971.9 1022.4,970.7 1024.1,969.4 1025.8,966.4 1027.5,964.1 1029.2,961.3 1030.9,958.7 1032.6,955.9 1034.1,954.0 1035.7,952.3 1037.2,951.1 1038.8,948.7 1040.3,946.7 1041.9,945.3 1043.4,944.1 1045.0,942.4 1046.5,940.0 1048.1,937.6 1049.6,936.3 1050.5,930.3 1052.1,928.3 1053.6,927.0 1055.2,925.5 1056.8,923.6 1058.3,921.8 1059.9,920.0 1061.6,919.2 1063.3,918.0 1065.0,916.8 1066.5,916.3 1068.1,915.2 1069.7,915.3 1071.2,915.0 1072.8,914.6 1074.3,913.4 1075.9,913.8 1077.5,914.7 1079.1,914.7 1080.6,915.3 1082.2,916.3 1083.8,916.4 1085.4,917.5 1087.1,918.6 1088.8,919.4 1090.5,920.4 1092.2,921.6 1093.9,922.5 1095.5,924.0 1097.0,924.9 1098.6,926.0 1100.2,927.6 1101.7,928.8 1103.3,929.7 1104.8,932.1 1106.4,934.6 1107.9,936.3 1109.5,937.8 1111.0,940.0 1112.5,942.6 1114.0,945.1 1115.5,948.2 1117.0,950.3 1118.6,953.3 1120.1,955.3 1121.6,957.7 1123.1,960.6 1124.6,963.5 1126.3,967.6 1128.0,971.5 1129.7,975.4 1131.2,978.0 1132.7,980.7 1134.3,983.2 1135.8,985.9 1137.3,988.6 1138.8,991.2 1140.4,994.0 1141.9,996.7 1143.4,999.8 1145.1,1002.3 1146.8,1004.6 1148.5,1007.0 1150.2,1009.7 1151.9,1012.6 1153.6,1015.1 1155.3,1017.9 1157.0,1020.9 1158.7,1022.4 1160.4,1024.8 1162.1,1027.6 1163.8,1030.4 1165.5,1033.0 1167.0,1034.7 1168.5,1036.7 1170.1,1038.6 1171.6,1040.1 1173.1,1042.7 1174.6,1044.3 1176.2,1045.7 1177.7,1047.5 1179.2,1049.2 1180.9,1050.9 1182.6,1051.8 1184.3,1053.7 1186.0,1056.0 1187.7,1057.4 1189.4,1059.2 1191.1,1062.1 1192.8,1064.7 1194.5,1067.4 1196.2,1069.1 1197.9,1071.5 1199.6,1073.9 1201.3,1076.6 1203.0,1077.7 1204.7,1077.6 1206.4,1079.1 1208.1,1080.1 1209.8,1081.9 1211.6,1082.9 1213.3,1084.5 1215.0,1086.4 1216.7,1087.7 1218.7,1090.0 1220.6,1092.4 1222.6,1094.6" fill="none" stroke="#000000" stroke-width="0.85" stroke-linejoin="round"/>
<rect x="1358.3" y="899.3" width="311.6" height="380.4" fill="none" stroke="#909090" stroke-width="1.3"/>
<line x1="1358.3" y1="980.32" x2="1358.3" y2="1265.8" stroke="#666666" stroke-width="1.2"/>
<line x1="1369.5" y1="1279.7" x2="1658.3" y2="1279.7" stroke="#484848" stroke-width="1.3"/>
<line x1="1369.5" y1="1279.7" x2="1369.5" y2="1287.2" stroke="#606060" stroke-width="1.1"/>
<line x1="1441.7" y1="1279.7" x2="1441.7" y2="1287.2" stroke="#606060" stroke-width="1.1"/>
<line x1="1513.9" y1="1279.7" x2="1513.9" y2="1287.2" stroke="#606060" stroke-width="1.1"/>
<line x1="1586.1" y1="1279.7" x2="1586.1" y2="1287.2" stroke="#606060" stroke-width="1.1"/>
<line x1="1658.3" y1="1279.7" x2="1658.3" y2="1287.2" stroke="#606060" stroke-width="1.1"/>
<line x1="1352.3" y1="1265.8" x2="1358.3" y2="1265.8" stroke="#606060" stroke-width="1.1"/>
<line x1="1352.3" y1="1170.64" x2="1358.3" y2="1170.64" stroke="#606060" stroke-width="1.1"/>
<line x1="1352.3" y1="1075.48" x2="1358.3" y2="1075.48" stroke="#606060" stroke-width="1.1"/>
<line x1="1352.3" y1="980.32" x2="1358.3" y2="980.32" stroke="#606060" stroke-width="1.1"/>
<text transform="translate(1306.69 1272.9) scale(1 1.03)" font-size="28.2">0.0</text>
<text transform="translate(1307.11 1177.9) scale(1 1.03)" font-size="28.2">0.2</text>
<text transform="translate(1306.55 1082.9) scale(1 1.03)" font-size="28.2">0.4</text>
<text transform="translate(1306.83 987.9) scale(1 1.03)" font-size="28.2">0.6</text>
<text transform="translate(1340.46 1320.3) scale(1 1.03)" font-size="28.2">-500</text>
<text transform="translate(1413.36 1320.3) scale(1 1.03)" font-size="28.2">-250</text>
<text transform="translate(1506.4 1320.3) scale(1 1.03)" font-size="28.2">0</text>
<text transform="translate(1563.31 1320.3) scale(1 1.03)" font-size="28.2">250</text>
<text transform="translate(1636.25 1320.3) scale(1 1.03)" font-size="28.2">500</text>
<text transform="translate(1376.65 1359.5) scale(1 1.03)" font-size="28.2">Position around peak</text>
<path d="M1369.4,1070.7 1370.8,1090.7 1372.2,1110.5 1373.6,1124.7 1375.0,1138.8 1376.4,1137.9 1377.8,1136.9 1378.9,1131.9 1380.1,1120.5 1381.2,1111.9 1382.3,1108.7 1383.4,1102.5 1384.8,1106.5 1386.2,1107.6 1387.6,1106.5 1388.7,1099.4 1389.8,1099.4 1391.0,1089.2 1392.1,1080.8 1393.2,1073.2 1394.6,1077.7 1396.0,1080.9 1397.4,1082.4 1398.5,1089.5 1399.6,1097.0 1400.7,1105.0 1401.9,1113.0 1403.0,1118.2 1404.1,1111.6 1405.2,1113.7 1406.3,1108.7 1407.5,1108.6 1408.6,1104.6 1409.7,1105.9 1410.8,1103.9 1411.9,1104.7 1413.0,1111.0 1414.2,1105.1 1415.3,1108.8 1416.4,1107.5 1417.5,1111.5 1418.6,1117.1 1419.8,1119.6 1421.1,1125.0 1422.5,1129.3 1423.9,1131.4 1425.3,1128.4 1426.7,1120.7 1428.1,1120.3 1429.3,1115.9 1430.5,1116.4 1431.6,1114.5 1432.8,1115.3 1434.0,1111.5 1435.1,1113.1 1436.5,1103.2 1437.9,1097.3 1439.3,1088.4 1440.7,1081.5 1442.1,1073.5 1443.5,1070.4 1444.9,1076.2 1446.3,1084.5 1447.7,1086.6 1448.9,1089.7 1450.0,1092.2 1451.2,1094.1 1452.4,1096.2 1453.5,1098.3 1454.7,1098.9 1455.9,1101.5 1457.0,1106.5 1458.2,1113.2 1459.3,1120.3 1460.5,1124.3 1461.7,1128.6 1463.1,1131.5 1464.5,1134.6 1465.6,1128.6 1466.7,1124.7 1467.8,1122.5 1468.9,1114.0 1470.1,1107.1 1471.5,1108.5 1472.9,1102.8 1474.3,1099.9 1475.7,1122.4 1476.8,1119.7 1477.9,1127.7 1479.0,1130.1 1480.1,1128.6 1481.2,1130.4 1482.6,1110.4 1484.0,1089.1 1485.4,1071.2 1486.8,1037.6 1488.2,1004.8 1489.6,996.9 1491.0,987.7 1492.4,1016.6 1493.8,1028.2 1495.2,1045.6 1496.6,1087.6 1498.0,1125.5 1499.4,1129.7 1500.8,1138.5 1502.2,1144.0 1503.6,1148.4 1505.0,1138.1 1506.4,1120.5 1507.8,1108.0 1508.9,1104.0 1510.0,1097.3 1511.1,1086.4 1512.3,1085.9 1513.4,1085.4 1514.8,1096.9 1516.2,1104.9 1517.6,1113.7 1519.0,1124.3 1520.4,1139.0 1521.5,1128.4 1522.6,1118.1 1523.7,1112.2 1524.8,1101.1 1526.0,1096.1 1527.1,1080.4 1528.2,1068.2 1529.3,1059.2 1530.4,1050.4 1531.6,1038.3 1532.9,1026.5 1534.3,1010.8 1535.7,1000.7 1537.1,1008.9 1538.5,1016.9 1539.9,1030.7 1541.3,1040.7 1542.7,1054.0 1544.1,1074.6 1545.5,1094.8 1546.9,1116.8 1548.3,1114.9 1549.7,1113.3 1551.1,1108.1 1552.2,1106.0 1553.4,1101.8 1554.5,1105.7 1555.6,1105.6 1556.7,1101.0 1558.1,1090.9 1559.5,1080.2 1560.9,1074.1 1562.3,1078.7 1563.7,1087.1 1565.1,1088.2 1566.2,1080.6 1567.3,1071.3 1568.4,1073.7 1569.6,1068.9 1570.7,1060.3 1571.9,1057.1 1573.2,1048.3 1574.5,1052.7 1575.7,1045.4 1576.8,1054.9 1577.9,1064.0 1579.1,1070.3 1580.5,1069.2 1581.9,1063.3 1583.3,1063.5 1584.7,1070.0 1586.1,1082.3 1587.5,1098.5 1588.8,1106.8 1590.2,1107.2 1591.6,1110.1 1593.0,1111.7 1594.4,1110.4 1595.8,1104.1 1597.2,1096.0 1598.6,1088.4 1600.0,1079.8 1601.2,1077.7 1602.5,1079.4 1603.7,1076.9 1604.8,1094.0 1605.9,1104.4 1607.0,1117.0 1608.1,1120.0 1609.3,1126.3 1610.4,1129.4 1611.5,1132.9 1612.6,1143.0 1613.7,1143.8 1614.8,1141.1 1616.0,1139.7 1617.1,1135.1 1618.2,1129.8 1619.4,1129.4 1620.6,1127.4 1621.8,1124.3 1623.0,1121.2 1624.2,1119.8 1625.4,1121.8 1626.6,1122.0 1627.8,1119.2 1629.0,1121.0 1630.2,1117.7 1631.4,1116.1 1632.6,1115.6 1633.8,1109.7 1635.0,1103.8 1636.1,1110.1 1637.2,1110.2 1638.3,1115.7 1639.4,1116.6 1640.6,1119.5 1642.0,1114.7 1643.4,1103.7 1644.7,1103.0 1645.9,1103.0 1647.0,1103.9 1648.1,1106.1 1649.2,1110.5 1650.3,1113.4 1651.7,1124.4 1653.1,1129.0 1654.5,1139.7 1655.7,1137.3 1657.0,1142.3 1658.2,1146.6" fill="none" stroke="#bebebe" stroke-width="0.85" stroke-linejoin="round"/>
<path d="M1369.4,1254.0 1370.6,1254.7 1371.7,1254.6 1372.8,1254.4 1373.9,1255.2 1375.0,1254.9 1376.1,1254.5 1377.3,1255.7 1378.4,1254.5 1379.5,1253.5 1380.6,1252.9 1381.7,1253.6 1382.9,1254.8 1384.0,1255.5 1385.1,1256.2 1386.2,1257.1 1387.3,1257.5 1388.4,1257.0 1389.6,1257.5 1390.7,1257.3 1391.8,1256.5 1392.9,1257.2 1394.0,1257.1 1395.2,1256.9 1396.3,1258.5 1397.4,1258.3 1398.5,1257.5 1399.6,1257.5 1400.7,1259.3 1401.9,1258.3 1403.0,1258.6 1404.1,1257.7 1405.2,1256.7 1406.3,1255.7 1407.5,1254.0 1408.6,1252.8 1409.7,1253.2 1410.8,1253.5 1411.9,1254.6 1413.0,1255.8 1414.2,1254.7 1415.3,1255.5 1416.4,1255.0 1417.5,1255.1 1418.6,1255.7 1419.8,1256.4 1420.9,1256.0 1422.0,1254.3 1423.1,1256.3 1424.2,1255.8 1425.3,1255.3 1426.5,1256.0 1427.6,1255.2 1428.7,1254.3 1429.8,1255.2 1430.9,1255.4 1432.0,1253.7 1433.2,1253.6 1434.3,1252.7 1435.4,1250.7 1436.5,1251.4 1437.6,1251.2 1438.8,1250.2 1439.9,1251.1 1441.0,1251.3 1442.1,1252.1 1443.2,1250.9 1444.3,1252.2 1445.5,1252.8 1446.6,1253.0 1447.7,1253.1 1448.8,1253.7 1449.9,1253.6 1451.1,1253.2 1452.2,1252.5 1453.3,1253.7 1454.4,1254.1 1455.5,1253.9 1456.6,1253.8 1457.8,1254.2 1458.9,1252.2 1460.1,1253.7 1461.3,1252.6 1462.5,1254.3 1463.7,1255.8 1464.9,1257.3 1466.1,1256.4 1467.3,1256.9 1468.5,1255.6 1469.7,1253.0 1470.9,1253.4 1472.1,1252.5 1473.3,1251.6 1474.5,1249.9 1475.7,1249.2 1476.8,1247.0 1477.9,1245.4 1479.0,1242.5 1480.1,1242.2 1481.2,1237.7 1482.4,1234.3 1483.5,1231.4 1484.6,1228.0 1485.7,1226.6 1486.8,1223.8 1487.9,1219.0 1489.1,1216.1 1490.2,1213.7 1491.3,1208.9 1492.4,1206.0 1493.5,1204.0 1494.7,1203.9 1495.8,1201.3 1496.9,1198.5 1498.0,1196.1 1499.1,1198.2 1500.2,1197.7 1501.4,1199.8 1502.5,1198.2 1503.6,1198.9 1504.7,1198.6 1505.8,1198.0 1507.0,1198.0 1508.1,1198.4 1509.2,1197.5 1510.3,1195.0 1511.4,1195.0 1512.5,1194.0 1513.7,1191.1 1514.8,1189.7 1515.9,1187.7 1517.0,1189.5 1518.1,1188.5 1519.3,1188.7 1520.4,1190.7 1521.5,1191.3 1522.6,1193.8 1523.7,1195.3 1524.8,1196.7 1526.0,1199.1 1527.1,1202.4 1528.2,1204.0 1529.3,1206.5 1530.4,1209.7 1531.6,1211.7 1532.7,1212.0 1533.8,1214.7 1534.9,1215.5 1536.0,1217.4 1537.1,1217.1 1538.3,1222.4 1539.4,1224.7 1540.5,1227.7 1541.6,1232.2 1542.7,1236.3 1543.9,1237.9 1545.1,1238.5 1546.3,1240.2 1547.5,1242.0 1548.7,1241.9 1549.9,1241.9 1551.1,1243.3 1552.3,1245.2 1553.5,1246.6 1554.7,1247.0 1555.9,1247.2 1557.1,1248.6 1558.3,1250.5 1559.5,1250.6 1560.7,1251.7 1561.9,1251.4 1563.1,1251.3 1564.3,1250.6 1565.5,1251.8 1566.7,1251.3 1567.9,1250.0 1569.0,1252.0 1570.1,1252.4 1571.2,1254.1 1572.4,1254.7 1573.5,1254.8 1574.6,1253.7 1575.7,1252.0 1576.8,1250.2 1577.9,1249.2 1579.1,1248.6 1580.3,1249.1 1581.5,1249.6 1582.7,1249.9 1583.9,1251.3 1585.1,1252.0 1586.3,1253.2 1587.5,1253.7 1588.6,1255.0 1589.7,1252.8 1590.8,1253.1 1591.9,1253.7 1593.0,1254.2 1594.2,1252.7 1595.3,1252.4 1596.4,1253.1 1597.5,1254.2 1598.6,1254.7 1599.7,1253.3 1600.9,1254.1 1602.0,1255.3 1603.1,1255.2 1604.2,1254.5 1605.3,1254.6 1606.5,1254.4 1607.6,1256.3 1608.7,1256.2 1609.8,1256.2 1611.0,1256.2 1612.2,1256.9 1613.4,1256.9 1614.6,1257.1 1615.8,1258.1 1617.0,1258.6 1618.2,1259.5 1619.3,1258.6 1620.4,1258.5 1621.6,1257.1 1622.7,1256.3 1623.8,1255.4 1625.0,1255.1 1626.2,1256.6 1627.4,1256.2 1628.6,1255.5 1629.8,1257.5 1631.0,1258.1 1632.2,1257.8 1633.3,1258.4 1634.4,1258.7 1635.5,1258.5 1636.6,1257.1 1637.8,1257.4 1638.9,1256.6 1640.0,1256.6 1641.1,1256.5 1642.2,1256.3 1643.4,1257.1 1644.5,1256.9 1645.7,1258.2 1646.9,1258.6 1648.1,1258.5 1649.3,1259.2 1650.5,1260.2 1651.7,1261.1 1653.0,1260.5 1654.3,1261.7 1655.6,1261.4 1656.9,1261.8 1658.2,1260.2" fill="none" stroke="#cdaa7d" stroke-width="0.85" stroke-linejoin="round"/>
<path d="M1369.4,1242.4 1370.6,1244.2 1371.8,1244.7 1372.9,1245.2 1374.1,1247.0 1375.3,1248.5 1376.4,1249.7 1377.7,1249.1 1378.9,1248.2 1380.1,1247.2 1381.3,1246.3 1382.5,1245.8 1383.8,1245.1 1385.0,1244.9 1386.2,1244.3 1387.4,1243.8 1388.6,1244.5 1389.8,1244.6 1391.0,1245.2 1392.2,1245.7 1393.4,1245.7 1394.6,1244.8 1395.8,1246.1 1397.0,1246.2 1398.2,1247.9 1399.4,1248.1 1400.6,1248.8 1401.8,1250.3 1403.0,1249.9 1404.1,1250.1 1405.2,1249.7 1406.3,1249.7 1407.5,1249.6 1408.6,1250.0 1409.7,1249.8 1410.8,1249.9 1411.9,1250.0 1413.0,1249.1 1414.2,1249.9 1415.3,1249.9 1416.4,1249.4 1417.5,1249.9 1418.6,1250.8 1419.8,1251.4 1420.9,1251.1 1422.0,1251.5 1423.1,1251.9 1424.2,1252.5 1425.3,1252.5 1426.5,1252.4 1427.6,1251.3 1428.7,1250.7 1429.8,1250.8 1430.9,1250.6 1432.0,1249.9 1433.2,1249.7 1434.3,1249.2 1435.4,1249.0 1436.5,1248.8 1437.7,1248.0 1438.9,1247.5 1440.1,1246.4 1441.3,1245.5 1442.5,1244.1 1443.7,1244.3 1444.9,1243.9 1446.1,1243.5 1447.3,1242.1 1448.5,1241.7 1449.7,1241.1 1450.9,1240.1 1452.1,1240.4 1453.3,1240.3 1454.5,1239.6 1455.7,1240.2 1456.9,1241.1 1458.1,1240.4 1459.3,1241.1 1460.5,1241.7 1461.7,1242.2 1462.9,1240.2 1464.1,1239.1 1465.3,1238.7 1466.5,1238.4 1467.7,1236.8 1468.9,1235.9 1470.1,1234.9 1471.3,1235.0 1472.5,1233.8 1473.7,1233.4 1474.9,1232.7 1476.1,1232.2 1477.2,1231.2 1478.4,1230.3 1479.6,1228.1 1480.7,1225.4 1481.8,1222.1 1482.9,1219.6 1484.0,1217.6 1485.2,1214.5 1486.3,1211.2 1487.4,1208.2 1488.5,1206.5 1489.6,1202.6 1490.7,1200.2 1491.9,1197.9 1493.0,1195.4 1494.1,1193.6 1495.2,1191.4 1496.6,1191.1 1498.0,1190.1 1499.4,1190.6 1500.8,1193.8 1502.2,1196.6 1503.4,1195.5 1504.5,1196.3 1505.7,1196.2 1506.9,1196.6 1508.0,1196.8 1509.2,1196.8 1510.4,1197.3 1511.5,1197.0 1512.7,1197.1 1513.8,1196.2 1515.0,1196.0 1516.2,1196.4 1517.4,1196.9 1518.6,1197.1 1519.8,1197.5 1521.1,1198.3 1522.3,1199.2 1523.5,1200.3 1524.7,1200.9 1526.0,1201.8 1527.2,1201.8 1528.4,1201.5 1529.6,1201.7 1530.8,1201.5 1532.0,1201.0 1533.1,1200.7 1534.3,1200.6 1535.5,1202.0 1536.6,1203.3 1537.7,1205.4 1538.8,1207.0 1539.9,1209.1 1541.1,1211.4 1542.3,1214.2 1543.5,1216.9 1544.7,1219.2 1545.9,1222.0 1547.1,1224.3 1548.3,1226.9 1549.5,1228.2 1550.7,1229.0 1551.9,1229.7 1553.1,1230.1 1554.3,1231.3 1555.5,1232.9 1556.7,1232.2 1557.9,1234.0 1559.1,1234.9 1560.3,1236.3 1561.5,1237.5 1562.7,1237.6 1563.9,1239.4 1565.1,1239.8 1566.3,1240.3 1567.5,1241.2 1568.7,1241.6 1569.9,1242.3 1571.1,1242.6 1572.3,1242.9 1573.5,1243.8 1574.7,1243.4 1575.9,1244.3 1577.1,1244.2 1578.3,1244.6 1579.5,1243.7 1580.7,1243.0 1581.9,1242.6 1583.0,1243.7 1584.1,1244.0 1585.2,1245.0 1586.3,1245.0 1587.5,1245.2 1588.6,1246.2 1589.7,1246.6 1590.8,1247.5 1591.9,1248.1 1593.0,1248.5 1594.2,1247.7 1595.3,1247.5 1596.4,1248.6 1597.5,1248.0 1598.6,1247.9 1599.7,1247.8 1600.9,1247.6 1602.0,1247.4 1603.1,1247.1 1604.2,1247.0 1605.3,1246.7 1606.5,1248.3 1607.6,1248.5 1608.7,1248.3 1609.8,1249.1 1610.9,1249.8 1612.0,1249.4 1613.2,1249.8 1614.3,1251.0 1615.4,1251.3 1616.5,1251.5 1617.6,1251.9 1618.8,1251.8 1619.9,1251.8 1621.0,1252.7 1622.1,1252.5 1623.2,1252.5 1624.3,1253.0 1625.5,1253.1 1626.6,1252.7 1627.7,1253.4 1628.8,1252.7 1629.9,1252.9 1631.1,1252.3 1632.2,1251.2 1633.3,1251.6 1634.4,1250.8 1635.5,1250.0 1636.6,1249.8 1637.8,1248.6 1638.9,1249.6 1640.0,1249.7 1641.1,1250.1 1642.2,1250.2 1643.4,1251.0 1644.5,1251.4 1645.6,1252.0 1646.7,1252.7 1647.8,1252.5 1648.9,1252.6 1650.1,1252.4 1651.2,1251.7 1652.4,1251.5 1653.6,1251.8 1654.7,1251.2 1655.9,1250.4 1657.0,1250.6 1658.2,1250.8" fill="none" stroke="#ffa500" stroke-width="0.85" stroke-linejoin="round"/>
<path d="M1369.4,1229.6 1370.8,1236.8 1372.2,1241.8 1373.4,1240.9 1374.6,1242.4 1375.8,1244.0 1377.0,1244.1 1378.2,1243.2 1379.4,1243.9 1380.6,1246.2 1381.7,1243.7 1382.9,1244.5 1384.0,1243.9 1385.1,1243.2 1386.2,1242.8 1387.3,1241.0 1388.4,1240.2 1389.6,1241.3 1390.7,1239.3 1391.8,1238.0 1392.9,1238.3 1394.0,1240.1 1395.2,1242.8 1396.3,1245.1 1397.4,1246.4 1398.5,1245.9 1399.6,1245.4 1400.7,1244.7 1401.9,1244.8 1403.0,1243.5 1404.1,1243.9 1405.2,1242.7 1406.3,1240.7 1407.5,1239.9 1408.6,1240.3 1409.8,1239.4 1411.0,1237.7 1412.2,1236.9 1413.4,1236.8 1414.6,1236.3 1415.8,1236.0 1417.0,1233.7 1418.1,1234.3 1419.2,1235.1 1420.3,1234.8 1421.4,1236.0 1422.5,1234.4 1423.7,1235.9 1424.8,1237.7 1425.9,1238.9 1427.0,1240.7 1428.1,1242.6 1429.3,1241.4 1430.4,1239.8 1431.5,1238.6 1432.6,1237.7 1433.7,1235.4 1434.8,1233.1 1436.0,1229.0 1437.1,1226.2 1438.2,1222.2 1439.3,1219.7 1440.5,1219.4 1441.6,1219.2 1442.8,1218.6 1444.0,1219.0 1445.1,1220.3 1446.3,1217.7 1447.7,1221.6 1449.1,1224.5 1450.5,1226.9 1451.7,1227.1 1452.8,1230.3 1454.0,1231.1 1455.2,1232.9 1456.3,1233.0 1457.5,1233.5 1458.6,1231.5 1459.8,1228.5 1461.0,1224.4 1462.1,1220.9 1463.3,1218.3 1464.5,1214.0 1465.7,1210.4 1466.9,1207.7 1468.1,1205.7 1469.3,1202.8 1470.5,1199.1 1471.7,1196.8 1472.9,1192.6 1474.0,1184.7 1475.1,1179.6 1476.2,1170.7 1477.3,1163.8 1478.4,1156.6 1479.6,1146.2 1480.7,1136.1 1481.8,1126.4 1482.9,1116.4 1484.0,1105.3 1485.2,1096.5 1486.3,1088.8 1487.4,1079.8 1488.5,1069.8 1489.6,1060.9 1490.7,1054.4 1491.9,1048.2 1493.0,1043.0 1494.1,1039.4 1495.2,1032.7 1496.6,1026.2 1498.0,1022.3 1499.4,1026.4 1500.8,1031.8 1501.9,1029.6 1503.0,1025.5 1504.2,1022.4 1505.3,1018.5 1506.4,1016.9 1507.5,1011.2 1508.6,1006.8 1509.8,1004.4 1510.9,997.8 1512.0,993.3 1513.2,994.0 1514.5,995.3 1515.8,996.3 1517.0,998.1 1518.2,1003.9 1519.4,1010.1 1520.6,1014.7 1521.8,1021.8 1522.9,1022.2 1524.0,1025.7 1525.1,1026.9 1526.2,1029.3 1527.4,1030.0 1528.5,1031.7 1529.6,1033.0 1530.7,1034.8 1531.8,1035.8 1532.9,1036.6 1534.3,1043.5 1535.7,1050.3 1537.1,1056.9 1538.3,1064.3 1539.4,1071.8 1540.5,1082.4 1541.6,1089.0 1542.7,1096.1 1543.8,1105.4 1545.0,1113.2 1546.1,1120.7 1547.2,1129.5 1548.3,1138.3 1549.4,1144.2 1550.6,1153.2 1551.7,1160.8 1552.8,1169.0 1553.9,1175.5 1555.3,1186.3 1556.7,1195.7 1558.1,1201.7 1559.3,1206.4 1560.4,1209.9 1561.6,1210.4 1562.8,1213.6 1563.9,1216.0 1565.1,1218.9 1566.3,1220.1 1567.4,1223.2 1568.6,1225.8 1569.7,1227.3 1570.9,1229.3 1572.1,1229.8 1573.2,1233.1 1574.4,1233.9 1575.6,1236.5 1576.7,1237.9 1577.9,1242.6 1579.1,1243.3 1580.3,1245.4 1581.5,1245.5 1582.7,1246.3 1583.9,1248.0 1585.1,1248.8 1586.3,1251.8 1587.5,1251.6 1588.6,1252.6 1589.7,1250.5 1590.8,1249.9 1591.9,1251.1 1593.0,1249.8 1594.4,1246.6 1595.8,1240.7 1597.0,1238.0 1598.2,1237.1 1599.4,1233.4 1600.6,1230.4 1601.8,1226.2 1603.0,1223.8 1604.2,1223.0 1605.6,1223.8 1607.0,1227.8 1608.4,1230.7 1609.8,1231.1 1611.2,1229.7 1612.6,1230.1 1613.7,1231.9 1614.8,1235.7 1616.0,1238.9 1617.1,1240.4 1618.2,1242.6 1619.4,1242.7 1620.6,1243.3 1621.8,1242.0 1623.0,1241.5 1624.2,1242.8 1625.4,1243.1 1626.6,1243.2 1627.8,1243.2 1629.0,1244.1 1630.2,1244.4 1631.4,1243.9 1632.6,1245.9 1633.8,1246.4 1635.0,1245.7 1636.2,1245.8 1637.4,1245.5 1638.6,1245.0 1639.8,1245.4 1641.0,1245.4 1642.2,1246.4 1643.4,1247.8 1644.5,1248.7 1645.7,1248.4 1646.9,1249.8 1648.1,1250.4 1649.3,1250.8 1650.5,1253.3 1651.7,1252.9 1653.0,1254.6 1654.3,1253.2 1655.6,1254.6 1656.9,1254.5 1658.2,1256.2" fill="none" stroke="#458b00" stroke-width="0.85" stroke-linejoin="round"/>
<path d="M1369.4,1241.1 1370.6,1241.5 1371.8,1241.9 1373.0,1242.0 1374.2,1242.7 1375.4,1243.1 1376.6,1243.9 1377.8,1243.6 1379.0,1244.5 1380.2,1242.4 1381.4,1242.7 1382.6,1243.0 1383.8,1242.5 1385.0,1241.9 1386.2,1241.8 1387.4,1242.3 1388.5,1242.9 1389.7,1242.0 1390.9,1242.5 1392.0,1242.4 1393.2,1243.2 1394.4,1243.0 1395.5,1243.2 1396.7,1243.8 1397.9,1243.6 1399.0,1243.8 1400.2,1243.6 1401.4,1243.6 1402.5,1242.9 1403.7,1243.1 1404.8,1243.3 1406.0,1243.3 1407.2,1244.5 1408.3,1243.1 1409.5,1242.6 1410.7,1243.4 1411.8,1243.9 1413.0,1243.9 1414.2,1244.3 1415.3,1244.6 1416.4,1243.5 1417.5,1242.5 1418.6,1242.4 1419.8,1242.8 1420.9,1242.5 1422.0,1241.9 1423.1,1241.7 1424.2,1241.5 1425.3,1240.4 1426.5,1240.2 1427.7,1239.1 1428.9,1238.4 1430.1,1237.5 1431.3,1236.9 1432.5,1236.6 1433.7,1235.5 1434.9,1234.7 1436.1,1234.3 1437.3,1233.4 1438.5,1232.1 1439.7,1231.7 1440.9,1230.6 1442.1,1229.7 1443.3,1229.5 1444.5,1229.7 1445.7,1228.5 1446.9,1228.0 1448.1,1227.8 1449.3,1227.1 1450.5,1227.0 1451.7,1225.7 1452.9,1222.9 1454.1,1221.5 1455.3,1219.5 1456.5,1218.8 1457.7,1216.8 1458.9,1214.9 1460.1,1212.6 1461.3,1210.1 1462.5,1208.4 1463.7,1206.6 1464.9,1204.6 1466.1,1203.3 1467.3,1201.1 1468.5,1197.6 1469.7,1194.7 1470.9,1192.2 1472.1,1188.8 1473.3,1186.3 1474.5,1183.4 1475.7,1180.9 1476.8,1177.4 1478.0,1173.5 1479.2,1170.6 1480.4,1166.5 1481.6,1163.2 1482.8,1159.1 1484.0,1155.3 1485.2,1151.7 1486.4,1148.2 1487.6,1145.2 1488.8,1140.9 1490.0,1138.3 1491.2,1133.9 1492.4,1131.1 1493.6,1128.9 1494.8,1126.5 1495.9,1124.9 1497.1,1122.6 1498.2,1120.6 1499.4,1118.6 1500.8,1121.0 1502.2,1121.1 1503.6,1123.1 1504.8,1123.0 1506.0,1123.0 1507.2,1123.4 1508.4,1124.6 1509.6,1124.7 1510.8,1124.8 1512.0,1125.7 1513.1,1126.3 1514.2,1127.1 1515.3,1126.8 1516.5,1128.1 1517.6,1128.8 1518.7,1128.6 1519.8,1129.0 1520.9,1129.8 1522.0,1130.1 1523.2,1130.9 1524.4,1131.8 1525.6,1132.4 1526.8,1132.6 1528.0,1132.8 1529.2,1134.3 1530.4,1134.8 1531.6,1136.4 1532.7,1138.7 1533.8,1140.0 1534.9,1141.8 1536.0,1143.6 1537.1,1145.2 1538.3,1148.3 1539.4,1151.9 1540.5,1155.9 1541.6,1160.1 1542.7,1163.8 1543.8,1167.4 1545.0,1171.4 1546.1,1174.3 1547.2,1177.6 1548.3,1180.5 1549.4,1183.5 1550.6,1186.8 1551.7,1190.0 1552.8,1192.5 1553.9,1194.7 1555.0,1197.9 1556.1,1198.8 1557.3,1201.2 1558.4,1203.4 1559.5,1205.9 1560.6,1207.5 1561.7,1208.5 1562.9,1211.3 1564.0,1212.6 1565.1,1213.3 1566.2,1213.8 1567.3,1214.3 1568.4,1216.4 1569.6,1217.9 1570.7,1219.1 1571.9,1220.8 1573.1,1222.0 1574.3,1222.5 1575.5,1223.3 1576.7,1225.1 1577.9,1226.9 1579.1,1228.7 1580.3,1229.9 1581.5,1230.9 1582.7,1231.7 1583.9,1233.4 1585.1,1234.8 1586.3,1235.5 1587.5,1236.4 1588.6,1237.1 1589.8,1237.5 1591.0,1238.5 1592.2,1238.7 1593.4,1239.8 1594.6,1240.0 1595.8,1241.1 1597.0,1241.9 1598.2,1240.7 1599.4,1240.7 1600.6,1241.6 1601.8,1241.2 1603.0,1240.7 1604.2,1240.6 1605.3,1240.6 1606.5,1240.3 1607.6,1240.0 1608.7,1240.8 1609.8,1241.4 1610.9,1242.6 1612.0,1242.9 1613.2,1242.5 1614.3,1243.4 1615.4,1243.3 1616.6,1244.2 1617.7,1243.7 1618.9,1244.4 1620.1,1244.4 1621.2,1244.3 1622.4,1244.9 1623.6,1244.7 1624.7,1243.8 1625.9,1244.6 1627.0,1244.5 1628.2,1244.7 1629.4,1245.2 1630.5,1245.6 1631.7,1245.6 1632.9,1245.2 1634.0,1245.2 1635.2,1245.1 1636.4,1245.5 1637.5,1245.6 1638.7,1246.3 1639.9,1246.0 1641.0,1246.7 1642.2,1247.4 1643.4,1247.2 1644.5,1247.2 1645.7,1248.0 1646.9,1247.7 1648.1,1248.1 1649.3,1249.1 1650.5,1249.5 1651.7,1249.5 1653.0,1249.2 1654.3,1248.8 1655.6,1249.4 1656.9,1249.8 1658.2,1249.6" fill="none" stroke="#0000ff" stroke-width="0.85" stroke-linejoin="round"/>
<path d="M1369.4,1191.7 1370.6,1192.5 1371.8,1191.5 1372.9,1192.1 1374.1,1191.0 1375.3,1191.9 1376.4,1191.7 1377.7,1193.8 1378.9,1195.0 1380.2,1195.6 1381.5,1196.3 1383.4,1181.3 1384.6,1180.9 1385.8,1180.0 1387.0,1180.6 1388.2,1178.6 1389.4,1179.3 1390.6,1181.0 1391.8,1180.4 1393.0,1179.4 1394.2,1180.9 1395.4,1181.1 1396.6,1180.9 1397.8,1181.1 1399.0,1181.9 1400.2,1182.9 1401.6,1183.5 1403.0,1185.5 1404.4,1185.3 1405.8,1183.5 1407.2,1179.7 1408.6,1176.5 1409.7,1177.8 1410.8,1178.7 1411.9,1180.3 1413.0,1179.6 1414.2,1179.9 1415.4,1178.1 1416.6,1177.8 1417.8,1177.5 1419.0,1176.3 1420.1,1176.3 1421.3,1176.1 1422.5,1174.9 1423.7,1175.0 1424.9,1175.2 1426.1,1176.3 1427.3,1175.9 1428.5,1177.5 1429.7,1177.4 1430.9,1178.3 1432.1,1177.3 1433.3,1176.9 1434.5,1176.7 1435.7,1177.4 1436.9,1177.3 1438.1,1177.1 1439.3,1177.6 1440.4,1176.2 1441.6,1176.8 1442.7,1175.8 1443.8,1175.0 1444.9,1174.8 1446.0,1175.6 1447.1,1176.2 1448.3,1174.8 1449.4,1173.6 1450.5,1172.7 1451.7,1173.9 1452.9,1174.9 1454.1,1175.5 1455.3,1175.9 1456.5,1177.1 1457.7,1176.9 1458.9,1177.3 1460.0,1178.2 1461.1,1179.0 1462.2,1179.2 1463.5,1176.8 1464.8,1173.3 1466.0,1169.9 1467.3,1166.4 1468.5,1165.2 1469.7,1163.8 1470.9,1160.7 1472.1,1159.8 1473.3,1159.0 1474.5,1157.7 1475.7,1155.8 1476.8,1153.1 1477.9,1149.2 1479.0,1147.3 1480.1,1144.4 1481.2,1141.8 1482.4,1139.5 1483.6,1136.5 1484.7,1132.8 1485.9,1129.0 1487.1,1126.9 1488.2,1124.7 1489.4,1122.5 1490.6,1120.7 1491.7,1118.0 1492.9,1115.3 1494.1,1111.2 1495.2,1109.8 1496.6,1108.7 1498.0,1108.8 1499.4,1107.2 1500.8,1105.8 1502.2,1105.8 1503.6,1106.0 1504.8,1105.5 1506.0,1105.0 1507.2,1106.5 1508.4,1106.7 1509.6,1107.2 1510.8,1107.9 1512.0,1108.1 1513.2,1109.4 1514.4,1109.9 1515.6,1110.5 1516.8,1111.5 1518.0,1111.6 1519.2,1111.2 1520.4,1112.2 1521.6,1112.9 1522.8,1115.1 1524.0,1115.8 1525.2,1117.7 1526.4,1120.2 1527.6,1121.7 1528.8,1122.1 1530.0,1122.0 1531.2,1123.2 1532.3,1125.1 1533.5,1126.1 1534.7,1125.5 1535.9,1127.4 1537.1,1128.2 1538.3,1130.5 1539.5,1133.1 1540.7,1133.8 1541.9,1136.2 1543.1,1138.1 1544.3,1140.7 1545.5,1142.0 1546.7,1143.0 1547.9,1145.6 1549.1,1148.4 1550.3,1149.9 1551.5,1151.7 1552.7,1153.9 1553.9,1155.8 1555.0,1158.3 1556.1,1161.0 1557.3,1165.1 1558.4,1167.1 1559.5,1170.0 1560.7,1172.1 1561.9,1173.7 1563.1,1173.3 1564.3,1174.6 1565.5,1175.6 1566.7,1177.7 1567.9,1177.8 1569.1,1179.7 1570.3,1182.4 1571.5,1184.9 1572.7,1186.0 1573.9,1188.4 1575.1,1191.2 1576.3,1191.9 1577.5,1193.9 1578.7,1194.5 1579.9,1193.8 1581.1,1195.7 1582.3,1197.1 1583.5,1199.2 1584.7,1199.1 1585.9,1201.3 1587.2,1201.3 1588.4,1202.3 1589.7,1202.6 1590.9,1201.1 1592.1,1200.0 1593.4,1197.6 1594.6,1195.2 1595.8,1194.0 1597.0,1192.4 1598.2,1191.4 1599.4,1190.8 1600.6,1189.2 1601.8,1188.0 1603.0,1186.7 1604.2,1185.4 1605.3,1184.6 1606.5,1183.8 1607.6,1182.1 1608.7,1179.2 1609.8,1177.5 1610.9,1177.7 1612.0,1177.4 1613.2,1176.5 1614.3,1174.1 1615.4,1172.9 1616.6,1172.2 1617.8,1172.4 1619.0,1172.1 1620.2,1171.2 1621.4,1171.8 1622.6,1171.5 1623.8,1172.8 1625.0,1172.9 1626.1,1171.2 1627.3,1172.4 1628.4,1171.7 1629.6,1171.8 1630.8,1172.3 1632.0,1173.9 1633.2,1179.0 1634.4,1180.9 1635.6,1179.5 1636.9,1180.4 1638.1,1178.4 1639.3,1180.0 1640.6,1179.9 1641.8,1181.3 1643.0,1183.2 1644.2,1184.3 1645.3,1185.8 1646.5,1186.2 1647.7,1188.2 1648.9,1189.3 1650.1,1190.6 1651.2,1191.2 1652.4,1192.4 1653.6,1192.7 1654.7,1192.8 1655.9,1193.8 1657.0,1195.9 1658.2,1196.4" fill="none" stroke="#ff0000" stroke-width="0.85" stroke-linejoin="round"/>
<path d="M1369.4,1179.1 1370.6,1180.3 1371.8,1181.8 1373.0,1182.3 1374.2,1183.1 1375.4,1182.8 1376.6,1184.0 1377.8,1184.7 1379.0,1186.0 1380.2,1186.2 1381.4,1186.5 1382.6,1186.4 1383.8,1186.5 1385.0,1187.3 1386.2,1188.7 1387.4,1186.9 1388.6,1185.5 1389.8,1187.8 1391.0,1188.4 1392.2,1187.9 1393.4,1187.4 1394.6,1186.6 1395.8,1186.8 1397.0,1186.6 1398.2,1187.8 1399.4,1188.1 1400.6,1187.3 1401.8,1188.2 1403.0,1188.7 1404.1,1187.3 1405.2,1187.6 1406.3,1186.3 1407.5,1182.2 1408.6,1182.1 1409.8,1182.0 1411.0,1181.5 1412.2,1180.4 1413.4,1177.5 1414.6,1177.6 1415.8,1176.6 1417.0,1176.4 1418.1,1175.3 1419.3,1173.2 1420.4,1174.0 1421.6,1171.9 1422.8,1172.0 1423.9,1171.2 1425.2,1170.9 1426.4,1169.8 1427.6,1170.5 1428.8,1170.9 1430.1,1171.7 1431.3,1172.2 1432.5,1173.8 1433.7,1173.8 1434.8,1174.2 1436.0,1172.9 1437.1,1172.8 1438.2,1173.6 1439.3,1174.0 1440.4,1173.9 1441.6,1173.2 1442.7,1172.5 1443.8,1174.1 1444.9,1173.1 1446.1,1172.1 1447.4,1172.5 1448.6,1171.3 1449.8,1169.9 1451.0,1169.8 1452.2,1168.6 1453.5,1168.7 1454.7,1167.3 1455.9,1167.2 1457.0,1169.5 1458.2,1170.1 1459.3,1169.9 1460.5,1170.0 1461.7,1169.6 1462.9,1167.6 1464.1,1165.2 1465.3,1164.3 1466.5,1162.9 1467.7,1160.1 1468.9,1157.7 1470.1,1156.0 1471.3,1153.9 1472.5,1152.2 1473.7,1150.3 1474.9,1148.3 1476.1,1146.4 1477.2,1143.5 1478.4,1142.2 1479.6,1139.1 1480.8,1138.3 1482.0,1136.7 1483.2,1135.6 1484.4,1133.8 1485.6,1132.4 1486.8,1129.6 1488.1,1128.9 1489.3,1127.8 1490.5,1127.4 1491.7,1126.6 1492.9,1125.2 1494.2,1124.0 1495.4,1122.7 1496.6,1121.9 1497.8,1123.1 1498.9,1124.2 1500.1,1124.5 1501.3,1124.4 1502.4,1125.0 1503.6,1126.6 1504.8,1125.9 1506.0,1126.0 1507.2,1124.8 1508.4,1126.4 1509.6,1126.4 1510.8,1126.0 1512.0,1126.1 1513.1,1127.1 1514.2,1127.3 1515.3,1127.9 1516.5,1128.2 1517.6,1127.8 1518.7,1127.6 1519.8,1129.4 1520.9,1129.5 1522.0,1130.8 1523.2,1131.6 1524.3,1131.6 1525.4,1131.9 1526.5,1132.7 1527.6,1134.8 1528.8,1135.2 1529.9,1135.6 1531.0,1137.1 1532.1,1137.0 1533.2,1137.7 1534.3,1138.5 1535.5,1140.4 1536.7,1141.3 1537.9,1143.0 1539.1,1145.2 1540.3,1146.3 1541.5,1147.7 1542.7,1150.1 1543.9,1151.4 1545.1,1153.5 1546.2,1156.1 1547.4,1157.9 1548.6,1160.7 1549.7,1161.8 1550.9,1162.0 1552.0,1164.1 1553.2,1165.7 1554.4,1167.5 1555.5,1167.7 1556.7,1169.4 1557.9,1170.9 1559.1,1171.3 1560.3,1172.4 1561.5,1172.1 1562.7,1173.0 1563.9,1173.5 1565.1,1175.0 1566.2,1173.8 1567.3,1174.6 1568.4,1174.4 1569.6,1174.2 1570.7,1173.7 1571.8,1174.8 1572.9,1176.1 1574.0,1178.7 1575.2,1180.0 1576.3,1182.8 1577.4,1183.3 1578.6,1183.9 1579.7,1184.8 1580.8,1184.7 1582.0,1185.6 1583.1,1184.6 1584.3,1185.3 1585.4,1186.8 1586.6,1187.0 1587.7,1188.5 1588.8,1188.4 1590.1,1186.6 1591.3,1186.6 1592.5,1185.2 1593.7,1183.8 1595.0,1182.7 1596.2,1181.2 1597.4,1180.2 1598.6,1179.9 1599.7,1179.5 1600.9,1179.8 1602.0,1179.6 1603.1,1180.2 1604.2,1180.8 1605.3,1181.2 1606.5,1180.9 1607.6,1180.7 1608.7,1181.3 1609.8,1182.1 1610.9,1181.9 1612.0,1183.0 1613.2,1181.6 1614.3,1180.6 1615.4,1180.1 1616.5,1180.6 1617.6,1179.4 1618.8,1179.3 1619.9,1178.2 1621.0,1178.4 1622.1,1179.7 1623.2,1180.7 1624.3,1181.1 1625.5,1181.8 1626.6,1181.3 1627.7,1182.8 1628.8,1183.8 1629.9,1182.4 1631.1,1182.4 1632.2,1183.9 1633.3,1184.6 1634.4,1185.4 1635.5,1185.1 1636.6,1184.5 1637.8,1184.6 1638.9,1186.1 1640.0,1186.0 1641.1,1185.1 1642.2,1185.8 1643.4,1186.8 1644.5,1187.1 1645.7,1187.8 1646.9,1188.3 1648.1,1188.4 1649.3,1188.0 1650.5,1188.8 1651.7,1189.7 1653.0,1188.8 1654.3,1189.2 1655.6,1189.6 1656.9,1188.9 1658.2,1188.1" fill="none" stroke="#000000" stroke-width="0.85" stroke-linejoin="round"/>
<rect x="1692.6" y="896" width="261.1" height="248.8" fill="#fff" stroke="#000" stroke-width="2.2"/>
<rect x="1704.9" y="909.3" width="26.6" height="17.2" fill="#000000" stroke="#000" stroke-width="2"/>
<text transform="translate(1737.54 927.2) scale(1 1.03)" font-size="28.2">NIPBL Control</text>
<rect x="1704.9" y="943.32" width="26.6" height="17.2" fill="#ff0000" stroke="#000" stroke-width="2"/>
<text transform="translate(1737.54 961.22) scale(1 1.03)" font-size="28.2">NIPBLPatient</text>
<rect x="1704.9" y="977.34" width="26.6" height="17.2" fill="#0000ff" stroke="#000" stroke-width="2"/>
<text transform="translate(1738.53 995.24) scale(1 1.03)" font-size="28.2">SMC1A Control</text>
<rect x="1704.9" y="1011.36" width="26.6" height="17.2" fill="#ffa500" stroke="#000" stroke-width="2"/>
<text transform="translate(1738.53 1029.26) scale(1 1.03)" font-size="28.2">SMC1A Patient</text>
<rect x="1704.9" y="1045.38" width="26.6" height="17.2" fill="#458b00" stroke="#000" stroke-width="2"/>
<text transform="translate(1738.39 1063.28) scale(1 1.03)" font-size="28.2">CTCF</text>
<rect x="1704.9" y="1079.4" width="26.6" height="17.2" fill="#cdaa7d" stroke="#000" stroke-width="2"/>
<text transform="translate(1737.54 1097.3) scale(1 1.03)" font-size="28.2">DNase</text>
<rect x="1704.9" y="1113.42" width="26.6" height="17.2" fill="#bebebe" stroke="#000" stroke-width="2"/>
<text transform="translate(1737.54 1131.32) scale(1 1.03)" font-size="28.2">MNase</text>
<path d="M238.8,1788 L89.4,1788 A149.4,147.8 0 0 0 90.13,1802.57 Z" fill="#7030a0" stroke="#7030a0" stroke-width="0.5"/>
<path d="M238.8,1788 L90.13,1802.57 A149.4,147.8 0 0 0 289.4,1927.07 Z" fill="#00b0f0" stroke="#00b0f0" stroke-width="0.5"/>
<path d="M238.8,1788 L289.4,1927.07 A149.4,147.8 0 1 0 118.34,1700.57 Z" fill="#e00000" stroke="#e00000" stroke-width="0.5"/>
<path d="M238.8,1788 L118.34,1700.57 A149.4,147.8 0 0 0 89.4,1788 Z" fill="#92d050" stroke="#92d050" stroke-width="0.5"/>
<text transform="translate(272.68 1753.12) scale(1 1.03)" font-size="28.2">643</text>
<text transform="translate(122.3 1768.62) scale(1 1.03)" font-size="28.2">109</text>
<text transform="translate(177.12 1863.42) scale(1 1.03)" font-size="28.2">313</text>
<text transform="translate(57 1804.02) scale(1 1.03)" font-size="28.2">17</text>
<text transform="translate(152.57 1988.1) scale(1 1.03)" font-size="28.2">Gain SMC1A</text>
<path d="M635.2,1782.8 L486.2,1782.8 A149,147.5 0 0 0 487.56,1802.7 Z" fill="#7030a0" stroke="#7030a0" stroke-width="0.5"/>
<path d="M635.2,1782.8 L487.56,1802.7 A149,147.5 0 1 0 600.24,1639.42 Z" fill="#00b0f0" stroke="#00b0f0" stroke-width="0.5"/>
<path d="M635.2,1782.8 L600.24,1639.42 A149,147.5 0 0 0 544.73,1665.6 Z" fill="#e00000" stroke="#e00000" stroke-width="0.5"/>
<path d="M635.2,1782.8 L544.73,1665.6 A149,147.5 0 0 0 486.2,1782.8 Z" fill="#92d050" stroke="#92d050" stroke-width="0.5"/>
<text transform="translate(575.03 1695.22) scale(1 1.03)" font-size="28.2">43</text>
<text transform="translate(532.78 1748.72) scale(1 1.03)" font-size="28.2">95</text>
<text transform="translate(666.41 1811.42) scale(1 1.03)" font-size="28.2">498</text>
<text transform="translate(455.71 1798.92) scale(1 1.03)" font-size="28.2">14</text>
<text transform="translate(547.75 1988.1) scale(1 1.03)" font-size="28.2">Loss SMC1A</text>
<rect x="816.8" y="1612.8" width="29.8" height="25.3" fill="#92d050"/>
<text transform="translate(855.64 1632.8) scale(1 1.03)" font-size="28.2">NIPBL</text>
<rect x="816.8" y="1656.2" width="29.8" height="25.3" fill="#e00000"/>
<text transform="translate(855.64 1676.4) scale(1 1.03)" font-size="28.2">NIPBL &amp; CGI</text>
<rect x="816.8" y="1699.7" width="29.8" height="25.3" fill="#00b0f0"/>
<text transform="translate(856.07 1719.8) scale(1 1.03)" font-size="28.2">no NIPBL</text>
<rect x="816.8" y="1743.2" width="29.8" height="25.3" fill="#7030a0"/>
<text transform="translate(856.07 1763.2) scale(1 1.03)" font-size="28.2">no NIPBL &amp; CGI</text>
<rect x="1338.3" y="1714.97" width="31.3" height="268.93" fill="#000000" stroke="#3a3a3a" stroke-width="0.6"/>
<rect x="1369.7" y="1968.44" width="31.3" height="15.46" fill="#0b5fd0" stroke="#3a3a3a" stroke-width="0.6"/>
<rect x="1369.7" y="1846.12" width="31.3" height="122.32" fill="#5aa2fb" stroke="#3a3a3a" stroke-width="0.6"/>
<rect x="1401.4" y="1911.48" width="31.3" height="72.42" fill="#cc0860" stroke="#3a3a3a" stroke-width="0.6"/>
<rect x="1401.4" y="1839.5" width="31.3" height="71.98" fill="#e891ba" stroke="#3a3a3a" stroke-width="0.6"/>
<rect x="1433.3" y="1924.73" width="31.3" height="59.17" fill="#45b549" stroke="#3a3a3a" stroke-width="0.6"/>
<rect x="1433.3" y="1918.1" width="31.3" height="6.62" fill="#3feeb0" stroke="#3a3a3a" stroke-width="0.6"/>
<rect x="1509.6" y="1945.48" width="31.6" height="38.42" fill="#000000" stroke="#3a3a3a" stroke-width="0.6"/>
<rect x="1541.8" y="1967.12" width="31.3" height="16.78" fill="#0b5fd0" stroke="#3a3a3a" stroke-width="0.6"/>
<rect x="1541.8" y="1946.36" width="31.3" height="20.76" fill="#5aa2fb" stroke="#3a3a3a" stroke-width="0.6"/>
<rect x="1573.3" y="1815.21" width="31.3" height="168.69" fill="#cc0860" stroke="#3a3a3a" stroke-width="0.6"/>
<rect x="1573.3" y="1808.58" width="31.3" height="6.62" fill="#e891ba" stroke="#3a3a3a" stroke-width="0.6"/>
<rect x="1605.2" y="1747.2" width="31.6" height="236.7" fill="#45b549" stroke="#3a3a3a" stroke-width="0.6"/>
<rect x="1605.2" y="1738.37" width="31.6" height="8.83" fill="#3feeb0" stroke="#3a3a3a" stroke-width="0.6"/>
<rect x="1308.4" y="1628.6" width="4.2" height="357.6" fill="#000"/>
<rect x="1298.6" y="1982.1" width="361.6" height="4.2" fill="#000"/>
<rect x="1298.6" y="1982.1" width="10" height="4.1" fill="#000"/>
<rect x="1298.6" y="1893.58" width="10" height="4.1" fill="#000"/>
<rect x="1298.6" y="1805.26" width="10" height="4.1" fill="#000"/>
<rect x="1298.6" y="1716.94" width="10" height="4.1" fill="#000"/>
<rect x="1298.6" y="1628.62" width="10" height="4.1" fill="#000"/>
<rect x="1398.6" y="1985" width="4.2" height="11.2" fill="#000"/>
<rect x="1568.5" y="1985" width="4.2" height="11.2" fill="#000"/>
<text transform="translate(1266.14 1993.7) scale(1 1.03)" font-size="28.2">0</text>
<text transform="translate(1250.48 1905.38) scale(1 1.03)" font-size="28.2">20</text>
<text transform="translate(1250.48 1817.06) scale(1 1.03)" font-size="28.2">40</text>
<text transform="translate(1250.48 1728.74) scale(1 1.03)" font-size="28.2">60</text>
<text transform="translate(1250.48 1640.42) scale(1 1.03)" font-size="28.2">80</text>
<text transform="translate(1225.2 1961.61) rotate(-90) scale(1 1.03)" font-size="28.2">% of SMC1A diff peaks</text>
<text transform="translate(1367.11 2024.6) scale(1 1.03)" font-size="28.2">Gain</text>
<text transform="translate(1543.46 2024.6) scale(1 1.03)" font-size="28.2">Loss</text>
<rect x="1715.8" y="1619.3" width="28.2" height="27.6" fill="#000000" stroke="#555" stroke-width="0.6"/>
<text transform="translate(1752.49 1645.1) scale(1 1.03)" font-size="28.2">CpG Island (CGI)</text>
<rect x="1715.8" y="1663.83" width="28.2" height="27.6" fill="#0b5fd0" stroke="#555" stroke-width="0.6"/>
<text transform="translate(1751.44 1689.5) scale(1 1.03)" font-size="28.2">Promoter</text>
<rect x="1715.8" y="1708.36" width="28.2" height="27.6" fill="#5aa2fb" stroke="#555" stroke-width="0.6"/>
<text transform="translate(1753.34 1734.3) scale(1 1.03)" font-size="28.2">Promoter &amp; CGI</text>
<rect x="1715.8" y="1752.89" width="28.2" height="27.6" fill="#cc0860" stroke="#555" stroke-width="0.6"/>
<text transform="translate(1752.54 1779.2) scale(1 1.03)" font-size="28.2">Enhancer</text>
<rect x="1715.8" y="1797.42" width="28.2" height="27.6" fill="#de5292" stroke="#555" stroke-width="0.6"/>
<text transform="translate(1754.24 1824.1) scale(1 1.03)" font-size="28.2">Enhancer &amp; CGI</text>
<rect x="1715.8" y="1841.95" width="28.2" height="27.6" fill="#45b549" stroke="#555" stroke-width="0.6"/>
<text transform="translate(1752.49 1868.9) scale(1 1.03)" font-size="28.2">CTCF</text>
<rect x="1715.8" y="1886.48" width="28.2" height="27.6" fill="#3feeb0" stroke="#555" stroke-width="0.6"/>
<text transform="translate(1754.19 1913.8) scale(1 1.03)" font-size="28.2">CTCF &amp; CGI</text>
</svg>
</body></html>
